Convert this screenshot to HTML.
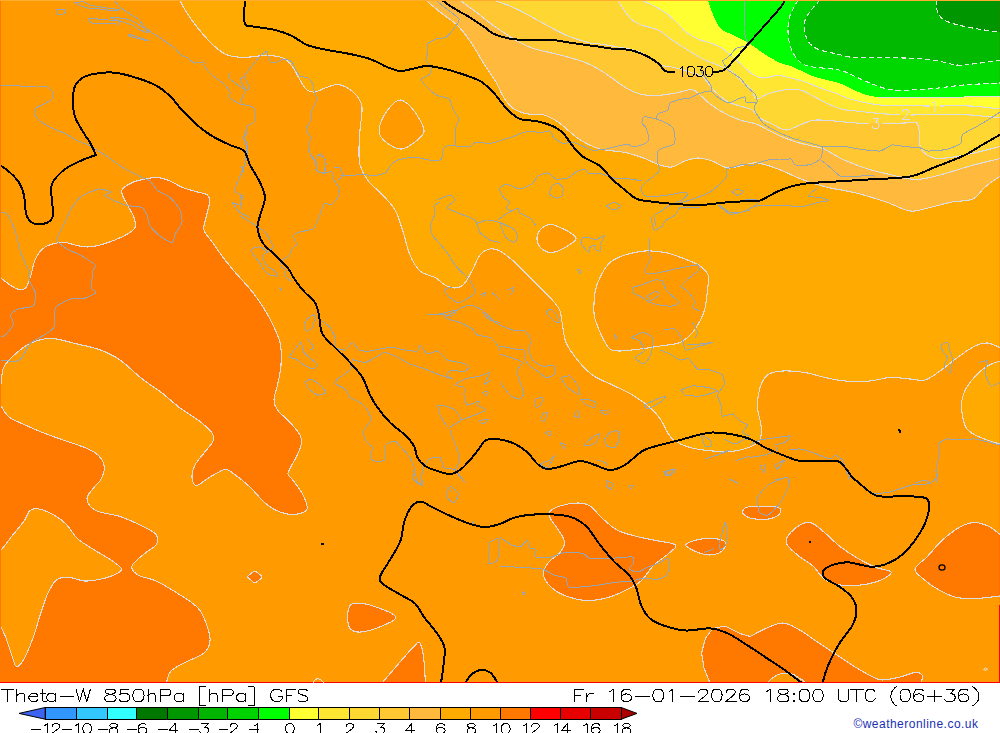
<!DOCTYPE html>
<html><head><meta charset="utf-8"><title>Theta-W 850hPa GFS</title>
<style>html,body{margin:0;padding:0;background:#fff;}body{width:1000px;height:733px;overflow:hidden;position:relative;font-family:"Liberation Sans",sans-serif;}svg{position:absolute;left:0;top:0;display:block}</style></head><body>
<svg width="1000" height="733" viewBox="0 0 1000 733">
<defs><clipPath id="mc"><rect x="0" y="0" width="1000" height="683"/></clipPath></defs>
<g clip-path="url(#mc)" shape-rendering="crispEdges">
<rect x="0" y="0" width="1000" height="683" fill="#ff9b00"/>
<path d="M-5.0,277.5C-4.2,259.8 -2.5,276.2 0.0,277.5C2.5,278.8 6.8,283.0 10.0,285.0C13.2,287.0 16.3,289.1 19.0,289.5C21.7,289.9 24.0,289.9 26.0,287.5C28.0,285.1 29.5,279.6 31.0,275.0C32.5,270.4 33.1,264.3 35.0,260.0C36.9,255.7 39.6,251.7 42.5,249.0C45.4,246.3 48.8,245.1 52.5,244.0C56.2,242.9 61.2,242.3 65.0,242.5C68.8,242.7 71.2,244.2 75.0,245.0C78.8,245.8 83.3,247.0 87.5,247.0C91.7,247.0 95.4,246.2 100.0,245.0C104.6,243.8 110.4,241.8 115.0,240.0C119.6,238.2 124.2,236.1 127.5,234.0C130.8,231.9 133.9,230.2 135.0,227.5C136.1,224.8 135.2,221.2 134.0,217.5C132.8,213.8 129.4,208.8 127.5,205.0C125.6,201.2 123.3,197.7 122.5,195.0C121.7,192.3 120.8,191.1 122.5,189.0C124.2,186.9 128.8,184.2 132.5,182.5C136.2,180.8 140.8,179.8 145.0,179.0C149.2,178.2 153.3,177.2 157.5,177.5C161.7,177.8 165.8,179.3 170.0,181.0C174.2,182.7 177.9,185.7 182.5,187.5C187.1,189.3 193.3,190.8 197.5,192.0C201.7,193.2 205.5,193.2 207.5,195.0C209.5,196.8 209.8,198.8 209.5,202.5C209.2,206.2 206.9,212.9 206.0,217.5C205.1,222.1 202.9,225.8 204.0,230.0C205.1,234.2 209.0,237.5 212.5,242.5C216.0,247.5 220.8,254.6 225.0,260.0C229.2,265.4 233.3,270.2 237.5,275.0C241.7,279.8 246.2,284.4 250.0,289.0C253.8,293.6 256.5,297.2 260.0,302.5C263.5,307.8 267.7,314.3 271.0,321.0C274.3,327.7 278.3,335.2 280.0,342.5C281.7,349.8 281.4,357.9 281.0,365.0C280.6,372.1 278.7,379.2 277.5,385.0C276.3,390.8 274.0,395.8 274.0,400.0C274.0,404.2 274.8,406.2 277.5,410.0C280.2,413.8 286.2,418.3 290.0,422.5C293.8,426.7 298.2,431.2 300.0,435.0C301.8,438.8 301.7,441.2 301.0,445.0C300.3,448.8 298.2,452.8 296.0,457.5C293.8,462.2 288.7,469.4 288.0,473.0C287.3,476.6 289.6,475.5 292.0,479.0C294.4,482.5 300.0,489.0 302.5,494.0C305.0,499.0 308.2,505.6 307.0,509.0C305.8,512.4 299.5,513.9 295.0,514.4C290.5,514.9 285.0,513.9 280.0,512.0C275.0,510.1 270.0,507.2 265.0,503.0C260.0,498.8 255.2,491.8 250.0,487.0C244.8,482.2 238.2,476.9 234.0,474.0C229.8,471.1 229.0,469.0 225.0,469.5C221.0,470.0 214.8,474.4 210.0,477.0C205.2,479.6 199.5,485.4 196.5,485.4C193.5,485.4 192.2,480.4 192.0,477.0C191.8,473.6 193.0,469.0 195.0,465.0C197.0,461.0 201.0,457.0 204.0,453.0C207.0,449.0 211.8,444.5 213.0,441.0C214.2,437.5 214.0,435.5 211.5,432.0C209.0,428.5 203.2,424.0 198.0,420.0C192.8,416.0 186.0,412.5 180.0,408.0C174.0,403.5 168.5,398.0 162.0,393.0C155.5,388.0 148.0,383.5 141.0,378.0C134.0,372.5 127.0,364.8 120.0,360.0C113.0,355.2 106.5,352.2 99.0,349.5C91.5,346.8 83.0,345.4 75.0,343.5C67.0,341.6 58.5,338.4 51.0,338.4C43.5,338.4 36.5,340.4 30.0,343.5C23.5,346.6 16.5,352.8 12.0,357.0C7.5,361.2 4.8,364.5 3.0,369.0C1.2,373.5 2.3,381.5 1.0,384.0C-0.3,386.5 -4.0,401.8 -5.0,384.0C-6.0,366.2 -5.8,295.2 -5.0,277.5Z" fill="#ff7800" stroke="#dedee2" stroke-width="1.1" stroke-linejoin="round"/>
<path d="M-5.0,405.0C-4.2,405.0 -2.3,403.0 0.0,405.0C2.3,407.0 5.0,413.8 9.0,417.0C13.0,420.2 18.0,421.8 24.0,424.5C30.0,427.2 38.0,430.8 45.0,433.5C52.0,436.2 59.0,438.5 66.0,441.0C73.0,443.5 81.5,446.0 87.0,448.5C92.5,451.0 96.1,452.8 99.0,456.0C101.9,459.2 104.2,464.0 104.4,468.0C104.7,472.0 101.9,477.2 100.5,480.0C99.1,482.8 98.2,481.9 96.0,485.0C93.8,488.1 87.0,494.2 87.0,498.5C87.0,502.8 90.5,507.5 96.0,510.5C101.5,513.5 112.5,514.0 120.0,516.5C127.5,519.0 135.0,522.5 141.0,525.5C147.0,528.5 153.5,531.2 156.0,534.5C158.5,537.8 158.0,541.8 156.0,545.0C154.0,548.2 148.0,550.5 144.0,554.0C140.0,557.5 133.0,562.5 132.0,566.0C131.0,569.5 134.0,572.5 138.0,575.0C142.0,577.5 149.5,578.0 156.0,581.0C162.5,584.0 170.0,588.5 177.0,593.0C184.0,597.5 193.0,602.5 198.0,608.0C203.0,613.5 205.0,620.5 207.0,626.0C209.0,631.5 210.5,636.5 210.0,641.0C209.5,645.5 208.0,649.5 204.0,653.0C200.0,656.5 191.5,659.0 186.0,662.0C180.5,665.0 174.2,667.5 171.0,671.0C167.8,674.5 167.3,679.8 166.5,683.0C165.7,686.2 166.1,688.8 166.0,690.0L-5,690Z" fill="#ff7800" stroke="#dedee2" stroke-width="1.1" stroke-linejoin="round"/>
<path d="M-5.0,551.0C-4.2,538.5 -2.8,553.5 0.0,551.0C2.8,548.5 8.0,541.0 12.0,536.0C16.0,531.0 21.0,525.2 24.0,521.0C27.0,516.8 27.5,512.5 30.0,510.5C32.5,508.5 35.0,508.2 39.0,509.0C43.0,509.8 49.5,512.5 54.0,515.0C58.5,517.5 62.0,520.0 66.0,524.0C70.0,528.0 73.0,534.5 78.0,539.0C83.0,543.5 90.5,547.5 96.0,551.0C101.5,554.5 106.8,557.0 111.0,560.0C115.2,563.0 121.0,566.5 121.5,569.0C122.0,571.5 117.8,573.2 114.0,575.0C110.2,576.8 104.0,578.5 99.0,579.5C94.0,580.5 89.0,581.4 84.0,581.0C79.0,580.6 73.5,577.6 69.0,577.4C64.5,577.1 60.5,576.9 57.0,579.5C53.5,582.1 50.8,587.2 48.0,593.0C45.2,598.8 43.0,606.5 40.5,614.0C38.0,621.5 35.8,630.5 33.0,638.0C30.2,645.5 26.8,654.2 24.0,659.0C21.2,663.8 18.5,667.0 16.5,666.5C14.5,666.0 13.8,660.8 12.0,656.0C10.2,651.2 8.0,643.0 6.0,638.0C4.0,633.0 1.8,628.0 0.0,626.0C-1.8,624.0 -4.2,638.5 -5.0,626.0C-5.8,613.5 -5.8,563.5 -5.0,551.0Z" fill="#ff9b00" stroke="#dedee2" stroke-width="1.1" stroke-linejoin="round"/>
<path d="M549.5,512.0C551.0,509.8 555.2,507.5 560.0,506.0C564.8,504.5 573.0,503.0 578.0,503.0C583.0,503.0 586.0,503.5 590.0,506.0C594.0,508.5 597.5,514.0 602.0,518.0C606.5,522.0 611.5,527.0 617.0,530.0C622.5,533.0 628.5,534.2 635.0,536.0C641.5,537.8 649.2,539.0 656.0,540.5C662.8,542.0 673.5,542.8 675.5,545.0C677.5,547.2 671.8,550.5 668.0,554.0C664.2,557.5 657.5,561.5 653.0,566.0C648.5,570.5 645.5,577.0 641.0,581.0C636.5,585.0 631.5,587.2 626.0,590.0C620.5,592.8 614.5,595.8 608.0,597.5C601.5,599.2 594.0,600.8 587.0,600.5C580.0,600.2 572.0,598.2 566.0,596.0C560.0,593.8 554.8,590.5 551.0,587.0C547.2,583.5 544.0,579.0 543.5,575.0C543.0,571.0 545.2,566.8 548.0,563.0C550.8,559.2 557.2,556.0 560.0,552.5C562.8,549.0 564.8,545.8 564.5,542.0C564.2,538.2 560.8,533.8 558.5,530.0C556.2,526.2 552.5,522.5 551.0,519.5C549.5,516.5 548.0,514.2 549.5,512.0Z" fill="#ff7800" stroke="#dedee2" stroke-width="1.1" stroke-linejoin="round"/>
<path d="M686.0,544.4C687.5,543.0 693.5,540.6 698.0,539.6C702.5,538.6 708.5,538.0 713.0,538.4C717.5,538.8 723.5,539.9 725.0,542.0C726.5,544.1 724.5,548.8 722.0,551.0C719.5,553.2 714.0,554.8 710.0,555.0C706.0,555.2 701.5,553.7 698.0,552.5C694.5,551.3 691.0,549.4 689.0,548.0C687.0,546.6 684.5,545.8 686.0,544.4Z" fill="#ff7800" stroke="#dedee2" stroke-width="1.1" stroke-linejoin="round"/>
<path d="M742.4,512.0C742.6,510.8 743.7,508.4 746.0,507.5C748.3,506.6 750.6,506.6 756.0,506.6C761.4,506.6 774.8,506.1 778.5,507.5C782.2,508.9 780.8,513.0 778.5,515.0C776.2,517.0 769.8,519.0 765.0,519.5C760.2,520.0 753.4,518.8 750.0,518.0C746.6,517.2 745.8,516.0 744.5,515.0C743.2,514.0 742.1,513.2 742.4,512.0Z" fill="#ff7800" stroke="#dedee2" stroke-width="1.1" stroke-linejoin="round"/>
<path d="M786.0,542.0C785.5,537.5 791.0,531.8 795.0,528.5C799.0,525.2 805.0,521.8 810.0,522.5C815.0,523.2 820.0,529.0 825.0,533.0C830.0,537.0 834.5,542.2 840.0,546.5C845.5,550.8 852.0,555.0 858.0,558.5C864.0,562.0 870.5,565.2 876.0,567.5C881.5,569.8 890.0,570.0 891.0,572.0C892.0,574.0 886.5,577.4 882.0,579.5C877.5,581.6 870.5,583.6 864.0,584.6C857.5,585.6 849.5,586.4 843.0,585.5C836.5,584.6 830.0,582.8 825.0,579.5C820.0,576.2 817.5,570.0 813.0,566.0C808.5,562.0 802.5,559.5 798.0,555.5C793.5,551.5 786.5,546.5 786.0,542.0Z" fill="#ff7800" stroke="#dedee2" stroke-width="1.1" stroke-linejoin="round"/>
<path d="M915.0,569.0C915.5,565.2 922.5,561.8 927.0,557.0C931.5,552.2 936.5,545.5 942.0,540.5C947.5,535.5 954.5,530.0 960.0,527.0C965.5,524.0 970.0,522.5 975.0,522.5C980.0,522.5 985.8,525.0 990.0,527.0C994.2,529.0 996.7,532.3 1000.0,534.5C1003.3,536.7 1008.3,529.8 1010.0,540.0C1011.7,550.2 1011.7,586.7 1010.0,596.0C1008.3,605.3 1005.3,595.6 1000.0,596.0C994.7,596.4 985.2,598.1 978.0,598.4C970.8,598.6 963.5,598.9 957.0,597.5C950.5,596.1 944.5,593.0 939.0,590.0C933.5,587.0 928.0,583.0 924.0,579.5C920.0,576.0 914.5,572.8 915.0,569.0Z" fill="#ff7800" stroke="#dedee2" stroke-width="1.1" stroke-linejoin="round"/>
<path d="M750.0,636.5C753.0,635.0 762.5,629.8 768.0,627.5C773.5,625.2 778.0,622.8 783.0,623.0C788.0,623.2 792.5,626.0 798.0,629.0C803.5,632.0 810.0,637.0 816.0,641.0C822.0,645.0 828.0,649.0 834.0,653.0C840.0,657.0 846.0,661.2 852.0,665.0C858.0,668.8 865.0,673.0 870.0,675.5C875.0,678.0 877.0,679.8 882.0,680.0C887.0,680.2 894.5,678.2 900.0,677.0C905.5,675.8 911.2,672.8 915.0,672.5C918.8,672.2 921.5,673.8 922.5,675.5C923.5,677.2 921.4,680.6 921.0,683.0C920.6,685.4 920.2,688.8 920.0,690.0L711,690L710,683L704,668L701.6,653L705.5,638L713,628.4L725,626L740,633.5Z" fill="#ff7800" stroke="#dedee2" stroke-width="1.1" stroke-linejoin="round"/>
<path d="M768.0,683.0C767.8,680.8 772.0,678.5 774.0,677.0C776.0,675.5 777.0,674.5 780.0,674.0C783.0,673.5 788.8,673.3 792.0,674.0C795.2,674.7 797.0,676.5 799.0,678.0C801.0,679.5 805.5,681.0 804.0,683.0C802.5,685.0 794.8,688.8 790.0,690.0C785.2,691.2 778.7,691.2 775.0,690.0C771.3,688.8 768.2,685.2 768.0,683.0Z" fill="#ff9b00" stroke="#dedee2" stroke-width="1.1" stroke-linejoin="round"/>
<path d="M349.0,608.0C350.0,605.5 350.0,604.0 353.5,603.5C357.0,603.0 363.0,602.9 370.0,605.0C377.0,607.1 393.5,612.9 395.5,616.4C397.5,619.9 387.8,623.4 382.0,626.0C376.2,628.6 366.2,631.5 361.0,632.0C355.8,632.5 352.8,631.2 350.5,629.0C348.2,626.8 347.8,622.0 347.5,618.5C347.2,615.0 348.0,610.5 349.0,608.0Z" fill="#ff7800" stroke="#dedee2" stroke-width="1.1" stroke-linejoin="round"/>
<path d="M382.0,683.0C385.0,679.5 394.8,668.0 400.0,662.0C405.2,656.0 410.2,650.2 413.5,647.0C416.8,643.8 417.9,641.0 419.5,642.5C421.1,644.0 422.4,649.2 423.4,656.0C424.4,662.8 425.1,678.5 425.5,683.0L425,690L382,690Z" fill="#ff7800" stroke="#dedee2" stroke-width="1.1" stroke-linejoin="round"/>
<path d="M247.5,576.8C247.5,575.7 249.8,574.4 251.0,573.5C252.2,572.6 253.7,571.2 255.0,571.3C256.3,571.4 257.8,573.0 259.0,574.0C260.2,575.0 262.1,575.9 262.0,577.0C261.9,578.1 259.8,579.5 258.5,580.5C257.2,581.5 255.8,582.9 254.5,582.8C253.2,582.7 252.2,581.0 251.0,580.0C249.8,579.0 247.5,577.9 247.5,576.8Z" fill="#ff7800" stroke="#dedee2" stroke-width="1.1" stroke-linejoin="round"/>
<path d="M180.0,-5.0C180.0,-4.2 179.2,-2.5 180.0,0.0C180.8,2.5 182.2,5.5 185.0,10.0C187.8,14.5 192.5,21.3 197.0,27.0C201.5,32.7 207.3,39.5 212.0,44.0C216.7,48.5 220.8,51.8 225.0,54.0C229.2,56.2 232.8,56.5 237.0,57.0C241.2,57.5 245.3,57.2 250.0,57.0C254.7,56.8 259.7,55.4 265.0,55.5C270.3,55.6 277.5,55.8 282.0,57.5C286.5,59.2 289.0,62.2 292.0,66.0C295.0,69.8 297.5,76.0 300.0,80.0C302.5,84.0 304.5,88.0 307.0,90.0C309.5,92.0 312.0,92.3 315.0,92.0C318.0,91.7 321.3,89.2 325.0,88.0C328.7,86.8 333.3,84.6 337.0,84.5C340.7,84.4 343.7,85.6 347.0,87.5C350.3,89.4 354.5,92.7 357.0,96.0C359.5,99.3 361.5,101.8 362.0,107.5C362.5,113.2 360.5,122.9 360.0,130.0C359.5,137.1 359.0,144.2 359.0,150.0C359.0,155.8 358.6,160.0 360.0,165.0C361.4,170.0 363.8,175.0 367.5,180.0C371.2,185.0 377.9,190.0 382.5,195.0C387.1,200.0 391.7,204.2 395.0,210.0C398.3,215.8 400.0,222.5 402.5,230.0C405.0,237.5 407.1,248.2 410.0,255.0C412.9,261.8 415.8,267.2 420.0,271.0C424.2,274.8 430.8,275.2 435.0,277.5C439.2,279.8 441.7,283.2 445.0,285.0C448.3,286.8 451.8,288.2 455.0,288.0C458.2,287.8 461.1,287.0 464.0,284.0C466.9,281.0 469.8,274.8 472.5,270.0C475.2,265.2 477.1,258.5 480.0,255.0C482.9,251.5 486.7,249.7 490.0,249.0C493.3,248.3 495.8,248.8 500.0,251.0C504.2,253.2 510.0,258.1 515.0,262.5C520.0,266.9 525.0,272.5 530.0,277.5C535.0,282.5 541.0,288.4 545.0,292.5C549.0,296.6 551.5,298.9 554.0,302.0C556.5,305.1 558.6,307.2 560.0,311.0C561.4,314.8 561.5,319.8 562.5,325.0C563.5,330.2 563.5,336.7 566.0,342.5C568.5,348.3 573.1,354.6 577.5,360.0C581.9,365.4 586.7,370.8 592.5,375.0C598.3,379.2 605.8,381.7 612.5,385.0C619.2,388.3 626.2,391.2 632.5,395.0C638.8,398.8 645.2,403.3 650.0,407.5C654.8,411.7 658.1,415.8 661.0,420.0C663.9,424.2 665.2,429.0 667.5,432.5C669.8,436.0 671.2,438.5 675.0,441.0C678.8,443.5 683.8,445.8 690.0,447.5C696.2,449.2 705.0,450.4 712.5,451.0C720.0,451.6 728.8,451.7 735.0,451.0C741.2,450.3 745.8,448.8 750.0,447.0C754.2,445.2 758.2,443.7 760.0,440.0C761.8,436.3 761.4,430.4 761.0,425.0C760.6,419.6 757.7,413.8 757.5,407.5C757.3,401.2 758.3,392.9 760.0,387.5C761.7,382.1 763.8,377.8 767.5,375.0C771.2,372.2 776.2,371.4 782.5,371.0C788.8,370.6 797.9,371.4 805.0,372.5C812.1,373.6 818.3,376.1 825.0,377.5C831.7,378.9 837.5,380.4 845.0,381.0C852.5,381.6 862.5,381.6 870.0,381.0C877.5,380.4 883.3,377.8 890.0,377.5C896.7,377.2 904.2,378.6 910.0,379.0C915.8,379.4 920.0,381.3 925.0,380.0C930.0,378.7 934.6,374.8 940.0,371.0C945.4,367.2 951.7,361.7 957.5,357.5C963.3,353.3 970.0,348.4 975.0,346.0C980.0,343.6 983.3,342.8 987.5,343.0C991.7,343.2 996.2,346.3 1000.0,347.5C1003.8,348.7 1008.3,349.6 1010.0,350.0L1010,-5Z" fill="#ffaa00" stroke="#dedee2" stroke-width="1.1" stroke-linejoin="round"/>
<path d="M1010.0,358.0C1008.3,343.8 1004.2,359.4 1000.0,361.0C995.8,362.6 990.0,363.9 985.0,367.5C980.0,371.1 973.8,377.5 970.0,382.5C966.2,387.5 963.8,392.5 962.5,397.5C961.2,402.5 961.4,407.5 962.0,412.5C962.6,417.5 963.8,423.8 966.0,427.5C968.2,431.2 971.0,432.8 975.0,435.0C979.0,437.2 985.8,439.5 990.0,441.0C994.2,442.5 996.7,443.2 1000.0,444.0C1003.3,444.8 1008.3,460.3 1010.0,446.0C1011.7,431.7 1011.7,372.2 1010.0,358.0Z" fill="#ffaa00" stroke="#dedee2" stroke-width="1.1" stroke-linejoin="round"/>
<path d="M400.0,100.0C396.7,100.2 393.2,103.3 390.0,107.0C386.8,110.7 382.7,117.3 381.0,122.0C379.3,126.7 378.5,131.2 380.0,135.0C381.5,138.8 386.3,142.7 390.0,145.0C393.7,147.3 397.8,149.5 402.0,149.0C406.2,148.5 411.3,144.8 415.0,142.0C418.7,139.2 423.2,135.7 424.0,132.0C424.8,128.3 422.3,124.3 420.0,120.0C417.7,115.7 413.3,109.3 410.0,106.0C406.7,102.7 403.3,99.8 400.0,100.0Z" fill="#ff9b00" stroke="#dedee2" stroke-width="1.1" stroke-linejoin="round"/>
<path d="M550.0,224.5C546.7,224.9 542.2,227.4 540.0,230.0C537.8,232.6 536.7,236.8 537.0,240.0C537.3,243.2 539.5,246.9 542.0,249.0C544.5,251.1 548.2,252.8 552.0,252.5C555.8,252.2 561.0,249.8 565.0,247.5C569.0,245.2 575.2,241.5 576.0,239.0C576.8,236.5 572.7,234.4 570.0,232.5C567.3,230.6 563.3,228.8 560.0,227.5C556.7,226.2 553.3,224.1 550.0,224.5Z" fill="#ff9b00" stroke="#dedee2" stroke-width="1.1" stroke-linejoin="round"/>
<path d="M594.0,313.0C593.8,308.1 594.0,298.4 595.0,292.5C596.0,286.6 597.5,282.5 600.0,277.5C602.5,272.5 605.8,266.2 610.0,262.5C614.2,258.8 619.2,256.9 625.0,255.0C630.8,253.1 638.3,251.4 645.0,251.0C651.7,250.6 658.3,251.2 665.0,252.5C671.7,253.8 679.2,256.8 685.0,259.0C690.8,261.2 696.2,263.3 700.0,266.0C703.8,268.7 706.8,271.0 708.0,275.0C709.2,279.0 708.0,284.5 707.5,290.0C707.0,295.5 706.1,303.2 705.0,308.0C703.9,312.8 703.1,314.9 701.0,319.0C698.9,323.1 696.0,328.6 692.5,332.5C689.0,336.4 685.4,340.2 680.0,342.5C674.6,344.8 666.7,344.9 660.0,346.0C653.3,347.1 646.7,348.2 640.0,349.0C633.3,349.8 625.0,351.0 620.0,351.0C615.0,351.0 612.9,351.2 610.0,349.0C607.1,346.8 604.8,342.0 602.5,337.5C600.2,333.0 597.4,326.1 596.0,322.0C594.6,317.9 594.2,317.9 594.0,313.0Z" fill="#ff9b00" stroke="#dedee2" stroke-width="1.1" stroke-linejoin="round"/>
<path d="M426.0,-5.0C426.0,-4.2 423.7,-2.8 426.0,0.0C428.3,2.8 434.7,7.7 440.0,12.0C445.3,16.3 452.7,20.7 458.0,26.0C463.3,31.3 467.7,37.7 472.0,44.0C476.3,50.3 480.0,57.7 484.0,64.0C488.0,70.3 492.7,76.3 496.0,82.0C499.3,87.7 501.0,93.5 504.0,98.0C507.0,102.5 510.0,106.3 514.0,109.0C518.0,111.7 523.0,113.0 528.0,114.0C533.0,115.0 539.0,113.7 544.0,115.0C549.0,116.3 553.7,119.2 558.0,122.0C562.3,124.8 566.0,128.8 570.0,132.0C574.0,135.2 577.0,138.2 582.0,141.0C587.0,143.8 592.8,147.1 600.0,149.0C607.2,150.9 618.0,151.1 625.0,152.5C632.0,153.9 636.2,155.4 642.0,157.5C647.8,159.6 655.0,163.4 660.0,165.0C665.0,166.6 667.8,167.7 672.0,167.0C676.2,166.3 680.7,162.5 685.0,161.0C689.3,159.5 693.5,158.0 698.0,158.0C702.5,158.0 707.0,159.3 712.0,161.0C717.0,162.7 722.7,167.3 728.0,168.0C733.3,168.7 739.2,165.8 744.0,165.0C748.8,164.2 751.3,162.3 757.0,163.0C762.7,163.7 770.5,166.2 778.0,169.0C785.5,171.8 794.0,176.5 802.0,179.5C810.0,182.5 817.0,184.8 826.0,187.0C835.0,189.2 846.0,190.5 856.0,193.0C866.0,195.5 877.0,199.0 886.0,202.0C895.0,205.0 903.0,210.0 910.0,211.0C917.0,212.0 921.0,209.5 928.0,208.0C935.0,206.5 944.5,203.5 952.0,202.0C959.5,200.5 967.5,201.5 973.0,199.0C978.5,196.5 980.5,190.8 985.0,187.0C989.5,183.2 995.8,179.0 1000.0,176.5C1004.2,174.0 1008.3,172.8 1010.0,172.0L1010,-5Z" fill="#ffb93c" stroke="#dedee2" stroke-width="1.1" stroke-linejoin="round"/>
<path d="M460.0,-5.0C460.0,-4.2 457.3,-2.8 460.0,0.0C462.7,2.8 470.3,7.7 476.0,12.0C481.7,16.3 487.7,21.5 494.0,26.0C500.3,30.5 507.7,35.3 514.0,39.0C520.3,42.7 524.3,45.3 532.0,48.0C539.7,50.7 551.3,52.7 560.0,55.0C568.7,57.3 577.3,59.5 584.0,62.0C590.7,64.5 595.3,67.3 600.0,70.0C604.7,72.7 607.7,75.0 612.0,78.0C616.3,81.0 621.3,85.3 626.0,88.0C630.7,90.7 635.0,92.7 640.0,94.0C645.0,95.3 650.0,95.8 656.0,95.6C662.0,95.4 670.0,94.0 676.0,93.0C682.0,92.0 688.0,89.3 692.0,89.6C696.0,89.9 697.0,92.6 700.0,95.0C703.0,97.4 706.0,101.0 710.0,104.0C714.0,107.0 719.0,110.3 724.0,113.0C729.0,115.7 734.7,118.2 740.0,120.0C745.3,121.8 751.3,122.3 756.0,124.0C760.7,125.7 764.0,128.0 768.0,130.0C772.0,132.0 775.3,134.0 780.0,136.0C784.7,138.0 790.7,140.3 796.0,142.0C801.3,143.7 807.3,144.8 812.0,146.0C816.7,147.2 818.7,146.7 824.0,149.0C829.3,151.3 836.7,156.7 844.0,160.0C851.3,163.3 860.0,166.5 868.0,169.0C876.0,171.5 884.0,173.2 892.0,175.0C900.0,176.8 908.0,179.5 916.0,179.5C924.0,179.5 931.0,177.2 940.0,175.0C949.0,172.8 960.0,168.8 970.0,166.0C980.0,163.2 993.3,160.2 1000.0,158.5C1006.7,156.8 1008.3,156.4 1010.0,156.0L1010,-5Z" fill="#ffc832" stroke="#dedee2" stroke-width="1.1" stroke-linejoin="round"/>
<path d="M494.0,-5.0C494.0,-4.2 491.3,-1.8 494.0,0.0C496.7,1.8 504.0,3.3 510.0,6.0C516.0,8.7 523.7,12.7 530.0,16.0C536.3,19.3 541.7,22.7 548.0,26.0C554.3,29.3 561.0,33.2 568.0,36.0C575.0,38.8 584.7,41.7 590.0,43.0C595.3,44.3 595.3,43.3 600.0,44.0C604.7,44.7 612.3,46.0 618.0,47.0C623.7,48.0 629.0,48.5 634.0,50.0C639.0,51.5 643.7,53.5 648.0,56.0C652.3,58.5 656.0,63.2 660.0,65.0C664.0,66.8 667.0,65.8 672.0,67.0C677.0,68.2 684.8,70.3 690.0,72.0C695.2,73.7 699.7,74.7 703.0,77.0C706.3,79.3 707.2,82.8 710.0,86.0C712.8,89.2 717.0,93.3 720.0,96.0C723.0,98.7 724.7,100.3 728.0,102.0C731.3,103.7 736.0,104.7 740.0,106.0C744.0,107.3 748.7,108.0 752.0,110.0C755.3,112.0 756.7,115.7 760.0,118.0C763.3,120.3 767.7,122.0 772.0,124.0C776.3,126.0 781.3,129.8 786.0,130.0C790.7,130.2 795.0,126.7 800.0,125.0C805.0,123.3 807.7,120.4 816.0,120.0C824.3,119.6 840.3,121.8 850.0,122.5C859.7,123.2 864.8,123.9 874.0,124.0C883.2,124.1 898.0,123.2 905.0,123.0C912.0,122.8 913.7,121.3 916.0,122.5C918.3,123.7 918.2,125.8 919.0,130.0C919.8,134.2 919.0,143.8 920.5,148.0C922.0,152.2 924.8,153.8 928.0,155.5C931.2,157.2 933.0,158.8 940.0,158.5C947.0,158.2 960.0,156.0 970.0,154.0C980.0,152.0 993.3,148.2 1000.0,146.5C1006.7,144.8 1008.3,144.4 1010.0,144.0L1010,-5Z" fill="#ffd732" stroke="#dedee2" stroke-width="1.1" stroke-linejoin="round"/>
<path d="M618.0,-5.0C618.0,-4.2 617.0,-2.5 618.0,0.0C619.0,2.5 621.8,6.8 624.0,10.0C626.2,13.2 628.2,16.5 631.0,19.0C633.8,21.5 636.5,23.2 641.0,25.0C645.5,26.8 652.8,27.5 658.0,30.0C663.2,32.5 667.3,36.8 672.0,40.0C676.7,43.2 680.8,45.8 686.0,49.0C691.2,52.2 697.3,56.2 703.0,59.0C708.7,61.8 715.2,63.8 720.0,66.0C724.8,68.2 728.7,69.7 732.0,72.0C735.3,74.3 736.7,77.0 740.0,80.0C743.3,83.0 749.3,86.8 752.0,90.0C754.7,93.2 753.3,98.3 756.0,99.0C758.7,99.7 763.3,95.5 768.0,94.0C772.7,92.5 778.7,90.7 784.0,90.0C789.3,89.3 795.5,89.2 800.0,90.0C804.5,90.8 806.7,92.8 811.0,95.0C815.3,97.2 821.0,100.7 826.0,103.0C831.0,105.3 836.0,107.7 841.0,109.0C846.0,110.3 849.5,110.2 856.0,111.0C862.5,111.8 872.0,112.8 880.0,113.5C888.0,114.2 894.0,114.8 904.0,115.0C914.0,115.2 929.0,114.5 940.0,114.5C951.0,114.5 960.0,114.4 970.0,115.0C980.0,115.6 993.3,117.3 1000.0,118.0C1006.7,118.7 1008.3,118.8 1010.0,119.0L1010,-5Z" fill="#ffe632" stroke="#dedee2" stroke-width="1.1" stroke-linejoin="round"/>
<path d="M642.0,-5.0C642.0,-4.2 640.0,-1.8 642.0,0.0C644.0,1.8 649.8,3.7 654.0,6.0C658.2,8.3 663.0,11.0 667.0,14.0C671.0,17.0 674.8,21.0 678.0,24.0C681.2,27.0 682.7,29.5 686.0,32.0C689.3,34.5 694.0,37.2 698.0,39.0C702.0,40.8 706.3,41.7 710.0,43.0C713.7,44.3 716.7,45.1 720.0,47.0C723.3,48.9 726.3,51.5 730.0,54.5C733.7,57.5 738.3,61.8 742.0,65.0C745.7,68.2 748.5,71.8 752.0,74.0C755.5,76.2 758.7,77.8 763.0,78.0C767.3,78.2 773.0,75.4 778.0,75.5C783.0,75.6 788.0,77.2 793.0,78.5C798.0,79.8 803.0,81.2 808.0,83.0C813.0,84.8 818.0,87.2 823.0,89.0C828.0,90.8 833.5,92.3 838.0,94.0C842.5,95.7 843.0,97.2 850.0,99.0C857.0,100.8 867.0,103.8 880.0,105.0C893.0,106.2 913.0,105.8 928.0,106.0C943.0,106.2 958.0,105.5 970.0,106.0C982.0,106.5 993.3,108.3 1000.0,109.0C1006.7,109.7 1008.3,109.8 1010.0,110.0L1010,-5Z" fill="#ffff32" stroke="#dedee2" stroke-width="1.1" stroke-linejoin="round"/>
<path d="M708.0,-5.0C708.0,-4.2 707.3,-2.8 708.0,0.0C708.7,2.8 710.0,7.3 712.0,12.0C714.0,16.7 716.5,24.2 720.0,28.0C723.5,31.8 728.3,32.6 733.0,35.0C737.7,37.4 743.0,39.5 748.0,42.5C753.0,45.5 758.0,49.8 763.0,53.0C768.0,56.2 773.0,59.7 778.0,62.0C783.0,64.3 786.8,64.5 793.0,67.0C799.2,69.5 807.3,74.3 815.0,77.0C822.7,79.7 831.3,80.3 839.0,83.0C846.7,85.7 854.2,90.7 861.0,93.0C867.8,95.3 868.8,96.3 880.0,97.0C891.2,97.7 908.0,97.2 928.0,97.0C948.0,96.8 986.3,96.2 1000.0,96.0C1013.7,95.8 1008.3,96.0 1010.0,96.0L1010,-5Z" fill="#00ff00"/>
<path d="M798.0,-5.0C798.0,-4.2 799.5,-4.0 798.0,0.0C796.5,4.0 790.5,12.2 789.0,19.0C787.5,25.8 787.8,34.6 789.0,41.0C790.2,47.4 792.8,53.4 796.0,57.6C799.2,61.8 800.8,63.9 808.0,66.0C815.2,68.1 831.0,68.2 839.0,70.0C847.0,71.8 850.0,74.5 856.0,77.0C862.0,79.5 868.7,82.8 875.0,85.0C881.3,87.2 885.2,89.3 894.0,90.0C902.8,90.7 916.3,89.8 928.0,89.0C939.7,88.2 952.0,86.0 964.0,85.0C976.0,84.0 992.3,83.3 1000.0,83.0C1007.7,82.7 1008.3,83.0 1010.0,83.0L1010,-5Z" fill="#00d700"/>
<path d="M820.0,-5.0C820.0,-4.2 822.0,-3.2 820.0,0.0C818.0,3.2 810.7,10.0 808.0,14.4C805.3,18.8 804.0,22.0 804.0,26.4C804.0,30.8 805.7,37.2 808.0,41.0C810.3,44.8 812.8,46.8 817.6,49.0C822.4,51.2 830.6,52.6 837.0,54.0C843.4,55.4 844.8,56.9 856.0,57.6C867.2,58.3 891.2,57.6 904.0,58.0C916.8,58.4 924.2,58.8 933.0,60.0C941.8,61.2 949.8,64.4 957.0,65.0C964.2,65.6 968.8,64.4 976.0,63.6C983.2,62.8 994.3,60.8 1000.0,60.0C1005.7,59.2 1008.3,59.2 1010.0,59.0L1010,-5Z" fill="#00b900"/>
<path d="M936.0,-5.0C936.0,-4.2 935.7,-2.8 936.0,0.0C936.3,2.8 936.1,8.6 937.6,12.0C939.1,15.4 940.6,18.0 945.0,20.4C949.4,22.8 954.8,24.4 964.0,26.4C973.2,28.4 992.3,31.3 1000.0,32.4C1007.7,33.5 1008.3,32.9 1010.0,33.0L1010,-5Z" fill="#009600"/>
</g>
<g clip-path="url(#mc)" fill="none" stroke="#98a6b4" stroke-width="1" shape-rendering="crispEdges">
<path d="M0.0,85.0C2.0,85.1 16.4,85.8 20.0,86.0C23.6,86.2 33.3,86.9 36.0,87.0C38.7,87.1 45.3,86.5 47.0,87.0C48.7,87.5 52.4,90.9 53.0,92.0C53.6,93.1 53.7,96.9 53.0,98.0C52.3,99.1 47.7,102.0 46.0,103.0C44.3,104.0 37.1,106.9 36.0,108.0C34.9,109.1 34.1,112.7 34.5,114.0C34.9,115.3 38.2,119.6 40.0,121.0C41.8,122.4 49.4,126.7 52.0,128.0C54.6,129.3 63.6,132.8 66.0,134.0C68.4,135.2 73.8,138.9 76.0,140.0C78.2,141.1 85.1,143.5 88.0,145.0C90.9,146.5 101.3,152.6 105.0,155.0C108.7,157.4 121.3,166.8 125.0,169.0C128.7,171.2 139.5,176.3 142.0,177.5C144.5,178.7 148.5,179.8 150.0,181.0C151.5,182.2 155.0,188.3 157.0,190.0C159.0,191.7 167.7,195.5 170.0,197.5C172.3,199.5 178.8,207.5 180.0,210.0C181.2,212.5 182.4,220.2 182.0,222.5C181.6,224.8 177.0,230.5 176.0,232.5C175.0,234.5 173.6,242.2 172.0,242.5C170.4,242.8 162.2,237.7 160.0,236.0C157.8,234.3 151.3,228.1 150.0,226.0C148.7,223.9 147.8,216.8 147.0,215.0C146.2,213.2 144.2,208.5 142.0,207.5C139.8,206.5 128.7,206.2 125.0,205.0C121.3,203.8 106.4,197.3 105.0,196.0C103.6,194.7 111.6,192.7 111.0,192.0C110.4,191.3 101.9,188.6 99.0,189.0C96.1,189.4 84.7,194.2 82.0,196.0C79.3,197.8 73.6,205.1 72.0,207.5C70.4,209.9 67.3,217.3 66.0,220.0C64.7,222.7 59.9,231.9 59.0,234.0C58.1,236.1 56.2,239.5 57.0,241.0C57.8,242.5 64.7,247.6 67.0,249.0C69.3,250.4 77.2,253.4 80.0,255.0C82.8,256.6 93.7,263.5 95.0,265.0C96.3,266.5 93.2,269.5 93.0,270.0"/>
<path d="M0.0,212.5C0.7,212.7 5.5,212.2 7.0,214.0C8.5,215.8 13.7,226.4 15.0,230.0C16.3,233.6 18.9,246.5 20.0,250.0C21.1,253.5 25.1,263.0 26.0,265.0C26.9,267.0 28.2,269.5 28.5,270.0"/>
<path d="M56.0,9.6C57.0,9.6 64.8,9.6 65.6,10.0C66.4,10.4 64.8,13.2 64.0,13.6C63.2,14.0 58.8,14.8 58.0,14.4C57.2,14.0 56.2,10.1 56.0,9.6"/>
<path d="M74.4,2.4C75.4,2.4 82.4,1.7 84.0,2.0C85.6,2.3 88.0,4.4 90.0,5.0C92.0,5.6 101.1,7.1 104.0,7.6C106.9,8.1 118.0,9.3 119.0,9.6C120.0,9.9 115.9,11.1 114.0,11.0C112.1,10.9 102.4,9.3 100.0,9.0C97.6,8.7 92.0,8.7 90.0,8.4C88.0,8.1 81.6,6.2 80.0,5.6C78.4,5.0 75.0,2.7 74.4,2.4"/>
<path d="M89.0,18.4C90.5,18.5 101.1,19.3 104.0,19.6C106.9,19.9 116.4,20.6 118.0,21.0C119.6,21.4 120.6,23.7 119.6,24.0C118.6,24.3 110.6,23.6 108.0,23.6C105.4,23.6 95.9,23.9 94.0,23.6C92.1,23.3 89.5,21.5 89.0,21.0C88.5,20.5 89.0,18.7 89.0,18.4"/>
<path d="M110.0,17.6C111.4,17.7 121.4,17.9 124.0,18.4C126.6,18.9 134.0,22.0 136.0,23.0C138.0,24.0 142.7,27.0 144.0,28.0C145.3,29.0 149.4,32.8 149.0,33.0C148.6,33.2 141.7,30.8 140.0,30.0C138.3,29.2 134.0,25.9 132.0,25.0C130.0,24.1 122.2,21.7 120.0,21.0C117.8,20.3 111.0,17.9 110.0,17.6"/>
<path d="M128.0,34.0C129.0,34.3 135.9,36.3 138.0,37.0C140.1,37.7 148.8,40.8 149.0,41.0C149.2,41.2 141.9,39.5 140.0,39.0C138.1,38.5 131.2,36.9 130.0,36.4C128.8,35.9 128.2,34.2 128.0,34.0"/>
<path d="M114.0,0.0C114.6,0.7 118.4,5.6 120.0,7.0C121.6,8.4 128.2,12.8 130.0,14.0C131.8,15.2 136.6,17.8 138.0,19.0C139.4,20.2 142.6,24.6 144.0,26.0C145.4,27.4 150.7,32.0 152.0,33.0C153.3,34.0 155.6,34.7 157.0,35.6C158.4,36.5 164.1,40.7 166.0,42.0C167.9,43.3 174.5,47.7 176.0,49.0C177.5,50.3 179.8,54.1 181.0,55.0C182.2,55.9 186.7,57.2 188.0,58.0C189.3,58.8 192.4,62.6 194.0,63.0C195.6,63.4 203.0,61.7 204.0,62.0C205.0,62.3 203.2,64.7 204.0,66.0C204.8,67.3 210.0,73.2 212.0,75.0C214.0,76.8 222.2,82.3 224.0,84.0C225.8,85.7 229.4,90.6 230.0,92.0C230.6,93.4 229.0,96.8 230.0,98.0C231.0,99.2 238.0,103.2 240.0,104.0C242.0,104.8 248.4,105.4 250.0,106.0C251.6,106.6 255.2,108.4 255.6,110.0C256.0,111.6 254.9,120.4 254.0,122.0C253.1,123.6 247.6,125.0 247.0,126.0C246.4,127.0 248.4,130.8 248.0,132.0C247.6,133.2 243.0,136.8 243.0,138.0C243.0,139.2 247.7,142.4 248.0,144.0C248.3,145.6 246.3,152.0 246.0,154.0C245.7,156.0 245.4,162.2 245.0,164.0C244.6,165.8 242.9,169.8 242.0,172.0C241.1,174.2 236.6,183.9 236.0,186.0C235.4,188.1 235.3,191.5 236.0,192.5C236.7,193.5 242.1,194.8 242.5,196.0C242.9,197.2 241.0,204.3 240.0,205.0C239.0,205.7 232.5,201.8 232.5,202.5C232.5,203.2 238.2,211.0 240.0,212.5C241.8,214.0 249.0,217.0 250.0,217.5"/>
<path d="M267.0,51.0C266.3,51.5 261.5,54.5 260.0,56.0C258.5,57.5 253.6,64.0 252.0,66.0C250.4,68.0 245.2,74.6 244.0,76.0C242.8,77.4 239.8,78.6 240.0,80.0C240.2,81.4 245.7,88.4 246.0,90.0C246.3,91.6 243.5,94.8 243.0,96.0C242.5,97.2 240.9,101.1 241.0,102.0C241.1,102.9 243.7,104.7 244.0,105.0"/>
<path d="M229.0,73.0C229.0,73.5 228.1,76.8 229.0,78.0C229.9,79.2 236.3,83.8 238.0,85.0C239.7,86.2 244.8,89.7 246.0,90.0C247.2,90.3 250.0,89.0 250.0,88.0C250.0,87.0 246.6,81.2 246.0,80.0C245.4,78.8 244.2,76.4 244.0,76.0"/>
<path d="M267.0,51.0C267.2,51.9 268.3,58.8 269.0,60.0C269.7,61.2 272.5,63.1 274.0,63.0C275.5,62.9 282.2,59.1 284.0,59.0C285.8,58.9 290.8,60.9 292.0,62.0C293.2,63.1 295.2,68.6 296.0,70.0C296.8,71.4 298.8,75.2 300.0,76.0C301.2,76.8 306.7,77.2 308.0,78.0C309.3,78.8 312.4,82.6 313.0,84.0C313.6,85.4 314.0,90.4 314.4,92.0C314.8,93.6 317.2,98.2 317.0,100.0C316.8,101.8 312.6,108.0 312.0,110.0C311.4,112.0 311.6,118.0 311.0,120.0C310.4,122.0 306.0,128.2 306.0,130.0C306.0,131.8 310.8,136.4 311.0,138.0C311.2,139.6 307.9,144.0 308.0,146.0C308.1,148.0 311.1,156.4 312.0,158.0C312.9,159.6 316.6,160.8 317.0,162.0C317.4,163.2 315.5,168.9 316.0,170.0C316.5,171.1 320.4,172.8 322.0,173.0C323.6,173.2 330.8,171.3 332.0,172.0C333.2,172.7 333.3,178.4 334.0,180.0C334.7,181.6 338.6,186.3 339.0,188.0C339.4,189.7 338.7,195.4 338.0,197.0C337.3,198.6 333.4,203.3 332.0,204.0C330.6,204.7 325.1,203.2 324.0,204.0C322.9,204.8 321.7,210.2 321.0,212.0C320.3,213.8 317.8,220.3 317.0,222.0C316.2,223.7 314.7,228.0 313.0,229.0C311.3,230.0 302.0,231.3 300.0,232.0C298.0,232.7 293.3,234.8 293.0,236.0C292.7,237.2 297.1,242.7 297.0,244.0C296.9,245.3 292.8,247.8 292.0,249.0C291.2,250.2 289.9,255.0 289.0,256.0C288.1,257.0 283.9,258.0 283.0,259.0C282.1,260.0 279.7,264.9 280.0,266.0C280.3,267.1 285.5,269.0 286.0,270.0C286.5,271.0 284.4,274.8 285.0,276.0C285.6,277.2 291.3,281.4 292.0,282.0"/>
<path d="M317.0,156.0C317.4,155.8 320.1,153.4 321.0,154.0C321.9,154.6 325.7,160.2 326.0,162.0C326.3,163.8 324.2,171.0 324.0,172.0"/>
<path d="M334.0,168.0C334.6,168.0 339.1,167.2 340.0,168.0C340.9,168.8 343.2,174.8 343.0,176.0C342.8,177.2 338.5,179.6 338.0,180.0"/>
<path d="M308.0,150.0C308.7,151.0 313.9,159.5 315.0,160.0C316.1,160.5 318.0,155.1 319.0,155.0C320.0,154.9 324.3,157.9 325.0,159.0C325.7,160.1 326.1,164.5 326.0,166.0C325.9,167.5 324.9,173.2 324.0,173.6C323.1,174.0 317.9,171.4 317.0,170.0C316.1,168.6 315.2,161.0 315.0,160.0"/>
<path d="M455.5,146.0C455.6,144.1 455.6,129.7 456.0,127.0C456.4,124.3 459.3,120.8 459.0,119.0C458.7,117.2 454.0,111.0 453.0,109.0C452.0,107.0 450.7,100.4 449.0,99.0C447.3,97.6 438.7,96.3 436.4,95.0C434.1,93.7 427.5,87.6 426.0,86.0C424.5,84.4 421.3,80.2 421.7,79.0C422.1,77.8 429.1,75.3 430.0,74.0C430.9,72.7 431.4,67.3 431.0,66.0C430.6,64.7 426.3,62.3 426.0,61.0C425.7,59.7 427.4,54.7 427.6,53.0C427.8,51.3 426.7,45.4 427.6,44.0C428.5,42.6 434.5,39.7 436.4,39.0C438.3,38.3 444.6,38.4 446.6,37.0C448.6,35.6 455.5,26.8 456.7,25.0C457.9,23.2 459.5,20.2 459.0,19.0C458.5,17.8 453.4,14.1 451.7,12.7C449.9,11.3 443.1,6.3 441.5,5.0C439.9,3.7 436.6,0.5 436.0,0.0"/>
<path d="M340.0,175.0C341.0,175.1 347.7,176.1 350.0,176.0C352.3,175.9 360.5,174.0 362.8,174.0C365.1,174.0 370.7,176.1 373.0,176.0C375.3,175.9 383.9,173.7 385.7,172.6C387.5,171.5 389.5,166.3 390.8,165.0C392.1,163.7 396.1,160.8 398.4,160.0C400.7,159.2 410.6,157.0 413.6,157.0C416.6,157.0 426.7,159.6 428.8,160.0C430.9,160.4 433.7,161.1 435.0,161.0C436.3,160.9 440.7,160.1 441.5,159.0C442.3,157.9 442.3,151.3 442.8,150.0C443.3,148.7 445.3,146.4 446.6,146.0C447.9,145.6 453.2,145.9 455.5,146.0C457.8,146.1 467.5,147.3 469.4,147.0C471.3,146.7 472.2,143.4 474.5,143.0C476.8,142.6 489.2,143.3 492.0,143.0C494.8,142.7 500.0,140.6 502.0,140.0C504.0,139.4 510.0,137.7 512.0,137.0C514.0,136.3 520.0,133.6 522.0,133.0C524.0,132.4 530.2,131.0 532.0,131.0C533.8,131.0 538.2,133.0 540.0,133.0C541.8,133.0 548.6,130.5 550.0,131.0C551.4,131.5 552.6,136.7 554.0,138.0C555.4,139.3 562.4,143.6 564.0,144.0C565.6,144.4 568.6,142.0 570.0,142.0C571.4,142.0 575.8,143.2 578.0,144.0C580.2,144.8 589.2,149.5 592.0,150.0C594.8,150.5 603.4,149.4 606.0,149.0C608.6,148.6 615.8,146.5 618.0,146.0C620.2,145.5 626.4,144.3 628.0,144.4C629.6,144.5 632.2,147.1 634.0,147.0C635.8,146.9 644.5,143.9 646.0,143.0C647.5,142.1 649.0,139.5 649.0,138.0C649.0,136.5 646.7,129.5 646.0,128.0C645.3,126.5 642.2,124.1 642.0,123.0C641.8,121.9 642.6,117.4 644.0,117.0C645.4,116.6 653.8,118.4 656.0,119.0C658.2,119.6 664.3,122.1 666.0,123.0C667.7,123.9 672.1,126.5 673.0,128.0C673.9,129.5 674.9,136.4 675.0,138.0C675.1,139.6 674.9,143.1 674.0,144.0C673.1,144.9 667.6,146.3 666.0,147.0C664.4,147.7 658.8,149.3 658.0,151.0C657.2,152.7 657.8,162.1 658.0,164.0C658.2,165.9 660.4,168.8 660.0,170.0C659.6,171.2 655.4,174.8 654.0,176.0C652.6,177.2 647.2,181.0 646.0,182.0C644.8,183.0 642.4,185.0 642.0,186.0C641.6,187.0 641.6,191.0 642.0,192.0C642.4,193.0 644.2,195.6 646.0,196.0C647.8,196.4 657.2,196.2 660.0,196.0C662.8,195.8 671.6,194.4 674.0,194.0C676.4,193.6 682.6,192.0 684.0,192.0C685.4,192.0 688.2,193.2 688.0,194.0C687.8,194.8 683.8,198.9 682.0,200.0C680.2,201.1 672.2,203.8 670.0,205.0C667.8,206.2 661.6,210.9 660.0,212.0C658.4,213.1 654.4,214.6 654.0,216.0C653.6,217.4 655.8,225.0 656.0,226.0"/>
<path d="M656.0,119.0C656.2,118.5 656.8,114.9 658.0,114.0C659.2,113.1 666.8,111.1 668.0,110.0C669.2,108.9 668.6,104.1 670.0,103.0C671.4,101.9 680.0,99.5 682.0,99.0C684.0,98.5 688.4,98.5 690.0,98.0C691.6,97.5 696.0,94.7 698.0,94.0C700.0,93.3 708.2,90.8 710.0,91.0C711.8,91.2 714.6,95.0 716.0,96.0C717.4,97.0 722.6,100.3 724.0,101.0C725.4,101.7 728.6,103.2 730.0,103.0C731.4,102.8 736.5,99.6 738.0,99.0C739.5,98.4 744.2,96.7 745.0,97.0C745.8,97.3 744.8,101.5 746.0,102.0C747.2,102.5 756.1,102.8 757.0,102.0C757.9,101.2 755.9,95.4 755.0,94.0C754.1,92.6 749.5,89.6 748.0,88.0C746.5,86.4 742.0,79.8 740.0,78.0C738.0,76.2 729.8,71.8 728.0,70.0C726.2,68.2 722.6,61.0 722.0,60.0"/>
<path d="M757.0,102.0C756.7,102.6 753.9,106.6 754.0,108.0C754.1,109.4 757.0,114.4 758.0,116.0C759.0,117.6 762.2,122.5 764.0,124.0C765.8,125.5 773.2,129.6 776.0,131.0C778.8,132.4 788.6,136.8 792.0,138.0C795.4,139.2 806.9,142.2 810.0,143.0C813.1,143.8 819.6,146.2 823.0,146.5C826.4,146.8 840.1,146.2 844.0,146.5C847.9,146.8 858.4,149.1 862.0,149.5C865.6,149.9 877.0,151.4 880.0,151.0C883.0,150.6 889.6,145.4 892.0,145.0C894.4,144.6 901.1,146.2 904.0,146.5C906.9,146.8 918.1,147.6 920.5,148.0C922.9,148.4 925.5,150.8 928.0,151.0C930.5,151.2 942.7,150.2 946.0,149.5C949.3,148.8 959.4,145.0 961.0,143.5C962.6,142.0 961.0,136.2 962.5,134.5C964.0,132.8 973.1,128.7 976.0,127.0C978.9,125.3 988.6,119.5 991.0,118.0C993.4,116.5 999.1,112.6 1000.0,112.0"/>
<path d="M823.0,146.5C822.8,147.7 822.1,156.2 821.0,158.0C819.9,159.8 814.1,163.2 812.0,164.0C809.9,164.8 801.8,166.0 800.0,166.0C798.2,166.0 794.9,164.7 794.0,164.0C793.1,163.3 792.4,159.4 791.0,159.0C789.6,158.6 782.3,159.9 780.0,160.0C777.7,160.1 770.2,159.7 768.0,160.0C765.8,160.3 759.6,162.4 758.0,163.0C756.4,163.6 753.4,165.9 752.0,166.0C750.6,166.1 745.8,163.9 744.0,164.0C742.2,164.1 735.8,166.5 734.0,167.0C732.2,167.5 726.7,168.1 726.0,169.0C725.3,169.9 727.6,174.5 727.0,176.0C726.4,177.5 721.7,182.4 720.0,184.0C718.3,185.6 712.4,190.6 710.0,192.0C707.6,193.4 699.0,196.9 696.0,198.0C693.0,199.1 681.6,202.5 680.0,203.0"/>
<path d="M821.0,160.0C822.1,160.9 830.0,167.3 832.0,169.0C834.0,170.7 838.6,175.8 841.0,176.5C843.4,177.2 853.0,176.7 856.0,176.5C859.0,176.3 869.0,175.0 871.0,175.0C873.0,175.0 875.0,176.3 875.5,176.5"/>
<path d="M731.5,191.5C732.1,191.3 736.3,189.4 737.5,189.4C738.7,189.4 743.5,190.9 743.5,191.5C743.5,192.1 738.7,195.4 737.5,195.4C736.3,195.4 732.1,191.9 731.5,191.5"/>
<path d="M718.0,205.0C719.2,205.9 727.3,213.4 730.0,214.0C732.7,214.6 742.6,211.8 745.0,211.0C747.4,210.2 751.0,207.1 754.0,206.5C757.0,205.9 770.2,205.0 775.0,205.0C779.8,205.0 797.5,206.8 802.0,206.5C806.5,206.2 817.3,202.6 820.0,202.0C822.7,201.4 829.0,200.9 829.0,200.5C829.0,200.1 822.1,197.9 820.0,197.5C817.9,197.1 808.3,196.9 808.0,196.0C807.7,195.1 816.1,189.2 817.0,188.5"/>
<path d="M745.0,199.0C746.5,199.2 759.1,199.8 760.0,200.5C760.9,201.2 754.6,205.9 754.0,206.5"/>
<path d="M499.0,189.0C499.7,188.5 503.9,184.0 506.0,184.0C508.1,184.0 517.4,189.0 520.0,189.0C522.6,189.0 530.2,185.3 532.0,184.0C533.8,182.7 536.4,177.1 538.0,176.0C539.6,174.9 546.2,172.7 548.0,173.0C549.8,173.3 554.0,178.5 556.0,179.0C558.0,179.5 566.0,178.7 568.0,178.0C570.0,177.3 574.3,172.9 576.0,172.0C577.7,171.1 583.8,168.9 585.0,169.0C586.2,169.1 586.3,172.5 588.0,173.0C589.7,173.5 599.4,173.5 602.0,174.0C604.6,174.5 611.2,177.5 614.0,178.0C616.8,178.5 627.2,178.7 630.0,179.0C632.8,179.3 640.8,180.8 642.0,181.0"/>
<path d="M499.0,189.0C499.5,189.9 502.9,196.7 504.0,198.0C505.1,199.3 509.8,201.0 510.0,202.0C510.2,203.0 505.8,207.1 506.0,208.0C506.2,208.9 510.8,211.0 512.0,211.0C513.2,211.0 517.2,207.8 518.0,208.0C518.8,208.2 518.8,212.0 520.0,213.0C521.2,214.0 528.4,216.7 530.0,218.0C531.6,219.3 535.4,225.2 536.0,226.0"/>
<path d="M498.0,220.0C498.8,219.4 504.6,214.9 506.0,214.0C507.4,213.1 511.4,211.3 512.0,211.0"/>
<path d="M549.0,194.0C549.3,193.2 551.1,187.1 552.0,186.0C552.9,184.9 556.9,182.8 558.0,183.0C559.1,183.2 562.6,186.7 563.0,188.0C563.4,189.3 562.7,195.0 562.0,196.0C561.3,197.0 557.3,198.2 556.0,198.0C554.7,197.8 549.7,194.4 549.0,194.0"/>
<path d="M606.0,206.0C606.8,205.6 612.5,202.4 614.0,202.4C615.5,202.4 621.0,205.2 621.0,206.0C621.0,206.8 615.5,210.0 614.0,210.0C612.5,210.0 606.8,206.4 606.0,206.0"/>
<path d="M745.0,20.0C744.9,20.9 743.9,26.9 744.0,29.0C744.1,31.1 746.0,39.4 746.5,41.0C747.0,42.6 750.5,44.0 749.5,44.8C748.5,45.5 737.9,47.5 736.0,48.5C734.1,49.5 732.4,53.2 731.0,54.5C729.6,55.8 723.4,60.4 722.5,61.0"/>
<path d="M700.0,69.5C700.6,70.4 705.0,77.0 706.0,78.5C707.0,80.0 709.9,83.3 710.5,84.5C711.1,85.7 711.9,89.9 712.0,90.5"/>
<path d="M745.0,0.0C744.9,1.0 744.0,8.0 744.0,10.0C744.0,12.0 744.9,19.0 745.0,20.0"/>
<path d="M240.0,216.0C241.2,216.7 249.6,221.5 252.0,223.0C254.4,224.5 262.2,229.3 264.0,231.0C265.8,232.7 269.1,238.4 270.0,240.0C270.9,241.6 273.2,245.8 273.0,247.0C272.8,248.2 269.1,251.1 268.0,252.0C266.9,252.9 262.1,254.6 262.0,256.0C261.9,257.4 265.7,264.5 267.0,266.0C268.3,267.5 274.0,270.0 275.0,271.0C276.0,272.0 277.5,275.6 277.0,276.0C276.5,276.4 271.3,275.6 270.0,275.0C268.7,274.4 265.1,271.3 264.0,270.0C262.9,268.7 260.1,263.6 259.0,262.0C257.9,260.4 253.7,255.3 253.0,254.0C252.3,252.7 251.3,249.7 252.0,249.0C252.7,248.3 258.4,246.7 260.0,247.0C261.6,247.3 267.2,251.5 268.0,252.0"/>
<path d="M240.0,166.0C240.4,166.4 244.0,169.0 244.0,170.0C244.0,171.0 240.4,175.4 240.0,176.0"/>
<path d="M240.0,194.0C240.2,194.8 242.0,200.5 242.0,202.0C242.0,203.5 240.2,208.3 240.0,209.0"/>
<path d="M279.0,287.0C279.3,287.4 281.7,290.6 282.0,291.0"/>
<path d="M440.0,202.0C439.4,202.4 434.5,204.8 434.0,206.0C433.5,207.2 435.4,212.0 435.0,214.0C434.6,216.0 430.2,223.8 430.0,226.0C429.8,228.2 432.0,234.2 433.0,236.0C434.0,237.8 438.6,242.3 440.0,244.0C441.4,245.7 445.5,250.4 447.0,252.5C448.5,254.6 453.5,263.0 455.0,265.0C456.5,267.0 460.5,271.0 462.0,272.5C463.5,274.0 468.7,278.0 470.0,280.0C471.3,282.0 475.5,290.5 475.0,292.5C474.5,294.5 466.8,299.0 465.0,300.0C463.2,301.0 458.8,303.0 457.0,302.5C455.2,302.0 448.2,296.4 447.0,295.0C445.8,293.6 444.5,289.8 445.0,289.0C445.5,288.2 451.3,287.6 452.0,287.5"/>
<path d="M437.0,200.0C438.3,199.5 448.2,195.0 450.0,195.0C451.8,195.0 455.3,198.8 455.0,200.0C454.7,201.2 446.8,206.2 447.0,207.5C447.2,208.8 454.2,211.2 457.0,212.5C459.8,213.8 472.7,218.0 475.0,220.0C477.3,222.0 478.5,230.5 480.0,232.5C481.5,234.5 488.0,239.0 490.0,240.0C492.0,241.0 499.0,242.2 500.0,242.5"/>
<path d="M476.0,224.0C477.1,223.6 484.6,220.2 487.0,220.0C489.4,219.8 498.7,222.2 500.0,222.5"/>
<path d="M427.0,315.0C428.3,314.9 437.5,313.9 440.0,314.0C442.5,314.1 450.3,316.4 452.0,316.0C453.7,315.6 455.2,311.1 457.0,310.0C458.8,308.9 467.5,305.0 470.0,305.0C472.5,305.0 479.5,308.2 482.0,310.0C484.5,311.8 493.2,321.0 495.0,322.5C496.8,324.0 498.2,324.2 500.0,325.0C501.8,325.8 510.0,329.4 512.5,330.0C515.0,330.6 523.1,330.0 525.0,331.0C526.9,332.0 530.6,338.1 531.0,340.0C531.4,341.9 528.9,348.0 529.0,350.0C529.1,352.0 531.1,358.4 532.5,360.0C533.9,361.6 540.4,365.4 542.5,366.0C544.6,366.6 552.9,365.1 554.0,366.0C555.1,366.9 554.8,373.9 554.0,375.0C553.2,376.1 547.6,377.9 546.0,377.5C544.4,377.1 539.1,372.1 537.5,371.0C535.9,369.9 531.2,367.2 530.0,366.0C528.8,364.8 525.6,360.6 525.0,359.0C524.4,357.4 525.0,351.0 524.0,350.0C523.0,349.0 517.4,349.4 515.0,349.0C512.6,348.6 501.5,346.3 500.0,346.0"/>
<path d="M480.0,295.0C480.6,294.8 485.7,292.3 486.0,292.5C486.3,292.7 483.3,296.6 483.0,297.0"/>
<path d="M492.0,292.5C492.8,293.2 499.2,299.2 500.0,300.0"/>
<path d="M304.0,324.0C304.5,323.4 307.9,318.4 309.0,317.5C310.1,316.6 314.6,314.0 315.0,315.0C315.4,316.0 313.4,325.9 312.5,327.5C311.6,329.1 306.9,331.4 306.0,331.0C305.1,330.6 304.2,324.7 304.0,324.0"/>
<path d="M289.0,357.5C289.6,356.6 293.8,350.5 295.0,349.0C296.2,347.5 300.1,342.1 301.0,342.5C301.9,342.9 302.9,350.8 304.0,352.5C305.1,354.2 311.1,358.8 312.5,360.0C313.9,361.2 317.5,364.1 317.5,365.0C317.5,365.9 314.0,369.1 312.5,369.0C311.0,368.9 304.1,365.0 302.5,364.0C300.9,363.0 297.4,359.6 296.0,359.0C294.6,358.4 289.7,357.6 289.0,357.5"/>
<path d="M307.5,339.0C308.1,339.9 313.8,346.4 314.0,347.5C314.2,348.6 310.4,349.8 310.0,350.0"/>
<path d="M305.0,382.5C305.6,382.1 309.5,378.8 311.0,379.0C312.5,379.2 318.5,383.6 320.0,385.0C321.5,386.4 326.2,391.5 326.0,392.5C325.8,393.5 319.2,395.4 317.5,395.0C315.8,394.6 310.2,390.2 309.0,389.0C307.8,387.8 305.4,383.1 305.0,382.5"/>
<path d="M322.5,321.0C323.2,321.6 328.6,325.7 330.0,327.5C331.4,329.3 335.5,337.0 336.0,339.0C336.5,341.0 334.1,346.4 335.0,347.5C335.9,348.6 343.2,350.5 345.0,350.0C346.8,349.5 351.1,342.5 352.5,342.5C353.9,342.5 357.2,349.1 359.0,350.0C360.8,350.9 367.9,351.1 370.0,351.0C372.1,350.9 377.8,349.4 380.0,349.0C382.2,348.6 390.0,347.4 392.5,347.5C395.0,347.6 402.5,349.6 405.0,350.0C407.5,350.4 416.0,351.5 417.5,351.0C419.0,350.5 419.0,344.7 420.0,345.0C421.0,345.3 425.8,353.4 427.5,354.0C429.2,354.6 435.5,350.4 437.5,351.0C439.5,351.6 445.2,358.9 447.5,360.0C449.8,361.1 457.9,361.9 460.0,362.5C462.1,363.1 468.5,365.1 469.0,366.0C469.5,366.9 466.9,370.5 465.0,371.0C463.1,371.5 451.8,370.5 450.0,371.0C448.2,371.5 447.2,375.2 447.5,376.0C447.8,376.8 453.2,379.1 452.5,379.0C451.8,378.9 442.8,376.0 440.0,375.0C437.2,374.0 428.0,370.1 425.0,369.0C422.0,367.9 413.0,365.3 410.0,364.0C407.0,362.7 397.5,357.1 395.0,356.0C392.5,354.9 387.0,352.4 385.0,352.5C383.0,352.6 377.0,356.5 375.0,357.5C373.0,358.5 367.2,362.2 365.0,362.5C362.8,362.8 354.0,359.2 352.5,360.0C351.0,360.8 351.5,368.1 350.0,370.0C348.5,371.9 338.9,377.6 337.5,379.0C336.1,380.4 335.2,383.0 336.0,384.0C336.8,385.0 343.6,387.6 345.0,389.0C346.4,390.4 348.5,396.1 350.0,397.5C351.5,398.9 358.2,401.2 360.0,402.5C361.8,403.8 366.4,408.2 367.5,410.0C368.6,411.8 371.4,418.0 371.0,420.0C370.6,422.0 364.6,428.0 364.0,430.0C363.4,432.0 364.1,438.2 365.0,440.0C365.9,441.8 372.0,445.8 372.5,447.5C373.0,449.2 369.8,456.1 370.0,457.5C370.2,458.9 373.5,460.8 375.0,461.0C376.5,461.2 383.9,461.6 385.0,460.0C386.1,458.4 385.0,446.9 386.0,445.0C387.0,443.1 393.6,440.9 395.0,441.0C396.4,441.1 398.5,444.4 400.0,446.0C401.5,447.6 408.5,455.1 410.0,457.5C411.5,459.9 414.8,468.0 415.0,470.0C415.2,472.0 411.9,476.0 412.5,477.5C413.1,479.0 420.0,485.8 421.0,485.0C422.0,484.2 421.7,472.6 422.5,470.0C423.3,467.4 427.2,460.2 429.0,459.0C430.8,457.8 438.5,456.6 440.0,457.5C441.5,458.4 442.5,466.2 444.0,467.5C445.5,468.8 452.9,468.5 455.0,470.0C457.1,471.5 464.0,481.2 465.0,482.5"/>
<path d="M437.5,405.0C438.2,405.1 443.2,405.5 445.0,406.0C446.8,406.5 453.4,408.6 455.0,410.0C456.6,411.4 461.5,418.2 461.0,420.0C460.5,421.8 450.9,425.8 450.0,427.5C449.1,429.2 451.8,435.2 452.5,437.5C453.2,439.8 456.9,447.6 457.5,450.0C458.1,452.4 459.2,459.0 459.0,461.0C458.8,463.0 455.4,469.1 455.0,470.0"/>
<path d="M437.5,405.0C437.8,406.0 439.0,412.8 440.0,415.0C441.0,417.2 446.8,426.2 447.5,427.5"/>
<path d="M461.0,420.0C462.4,419.5 472.5,416.0 475.0,415.0C477.5,414.0 485.8,411.0 486.0,410.0C486.2,409.0 478.2,405.9 477.5,405.0C476.8,404.1 480.0,401.0 479.0,401.0C478.0,401.0 469.0,405.6 467.5,405.0C466.0,404.4 464.4,396.8 464.0,395.0C463.6,393.2 464.9,388.5 464.0,387.5C463.1,386.5 454.9,385.9 455.0,385.0C455.1,384.1 462.5,379.9 465.0,379.0C467.5,378.1 477.5,376.6 480.0,376.0C482.5,375.4 489.6,371.7 490.0,372.5C490.4,373.3 483.9,383.2 484.0,384.0C484.1,384.8 490.3,380.4 491.0,380.0"/>
<path d="M482.5,392.5C483.1,392.4 488.6,390.6 489.0,391.0C489.4,391.4 486.6,395.9 486.0,396.0C485.4,396.1 482.9,392.9 482.5,392.5"/>
<path d="M479.0,421.0C480.0,420.8 488.6,418.7 489.0,419.0C489.4,419.3 484.0,423.8 483.0,424.0C482.0,424.2 479.4,421.3 479.0,421.0"/>
<path d="M427.5,315.0C428.8,314.9 437.0,314.5 440.0,314.0C443.0,313.5 457.0,309.6 457.5,310.0C458.0,310.4 444.8,316.2 445.0,317.5C445.2,318.8 457.2,321.4 460.0,322.5C462.8,323.6 470.8,327.8 472.5,329.0C474.2,330.2 475.8,334.1 477.5,335.0C479.2,335.9 488.0,336.5 490.0,337.5C492.0,338.5 496.5,343.6 497.5,345.0C498.5,346.4 499.8,350.4 500.0,351.0"/>
<path d="M482.5,312.5C483.2,313.2 488.2,319.0 490.0,320.0C491.8,321.0 499.0,322.2 500.0,322.5"/>
<path d="M447.5,487.5C448.0,488.0 452.0,492.0 452.5,492.5"/>
<path d="M500.0,354.0C501.5,354.5 512.8,358.1 515.0,359.0C517.2,359.9 522.2,361.4 522.5,362.5C522.8,363.6 517.9,368.2 517.5,370.0C517.1,371.8 518.4,377.8 519.0,380.0C519.6,382.2 523.9,390.6 524.0,392.5C524.1,394.4 521.3,398.6 520.0,399.0C518.7,399.4 512.5,397.0 511.0,396.0C509.5,395.0 506.1,390.4 505.0,389.0C503.9,387.6 500.5,383.1 500.0,382.5"/>
<path d="M546.0,312.5C546.4,312.1 549.0,308.9 550.0,309.0C551.0,309.1 555.0,312.6 556.0,314.0C557.0,315.4 560.2,321.8 560.0,322.5C559.8,323.2 555.4,322.0 554.0,321.0C552.6,320.0 546.8,313.4 546.0,312.5"/>
<path d="M561.0,377.5C561.9,377.4 568.4,375.2 570.0,376.0C571.6,376.8 576.5,383.1 577.5,385.0C578.5,386.9 580.5,394.4 580.0,395.0C579.5,395.6 574.0,392.0 572.5,391.0C571.0,390.0 566.1,386.4 565.0,385.0C563.9,383.6 561.4,378.2 561.0,377.5"/>
<path d="M580.0,399.0C581.0,399.1 588.4,399.6 590.0,400.0C591.6,400.4 595.6,401.8 596.0,402.5C596.4,403.2 595.1,407.4 594.0,407.5C592.9,407.6 586.4,404.9 585.0,404.0C583.6,403.1 580.5,399.5 580.0,399.0"/>
<path d="M536.0,399.0C536.6,398.9 542.0,396.9 542.5,397.5C543.0,398.1 541.6,404.0 541.0,405.0C540.4,406.0 536.5,408.1 536.0,407.5C535.5,406.9 536.0,399.9 536.0,399.0"/>
<path d="M542.5,414.0C543.0,413.9 547.2,411.8 547.5,412.5C547.8,413.2 545.6,420.2 545.0,421.0C544.4,421.8 541.2,420.7 541.0,420.0C540.8,419.3 542.4,414.6 542.5,414.0"/>
<path d="M574.0,416.0C574.4,415.4 577.0,409.9 577.5,410.0C578.0,410.1 579.9,416.9 579.5,417.5C579.1,418.1 574.5,416.1 574.0,416.0"/>
<path d="M600.0,411.0C600.9,410.9 608.4,409.6 609.0,410.0C609.6,410.4 606.9,414.9 606.0,415.0C605.1,415.1 600.6,411.4 600.0,411.0"/>
<path d="M545.0,432.5C545.6,432.4 550.5,430.6 551.0,431.0C551.5,431.4 550.6,435.9 550.0,436.0C549.4,436.1 545.5,432.9 545.0,432.5"/>
<path d="M560.0,442.5C560.6,442.8 565.6,444.4 566.0,445.0C566.4,445.6 564.6,449.2 564.0,449.0C563.4,448.8 560.4,443.1 560.0,442.5"/>
<path d="M584.0,445.0C585.0,444.1 592.4,437.1 594.0,436.0C595.6,434.9 599.8,433.4 600.0,434.0C600.2,434.6 597.2,441.3 596.0,442.5C594.8,443.7 589.2,445.8 588.0,446.0C586.8,446.2 584.4,445.1 584.0,445.0"/>
<path d="M604.0,440.0C604.6,439.2 608.6,433.4 610.0,432.5C611.4,431.6 616.5,430.5 617.5,431.0C618.5,431.5 620.2,435.9 620.0,437.5C619.8,439.1 616.2,446.6 615.0,447.5C613.8,448.4 608.6,446.8 607.5,446.0C606.4,445.2 604.4,440.6 604.0,440.0"/>
<path d="M540.0,464.0C541.0,463.6 548.5,460.9 550.0,460.0C551.5,459.1 555.2,454.2 555.0,455.0C554.8,455.8 549.0,466.6 547.5,467.5C546.0,468.4 540.8,464.4 540.0,464.0"/>
<path d="M597.5,460.0C598.2,460.2 604.0,461.9 605.0,462.5C606.0,463.1 607.2,465.6 607.5,466.0"/>
<path d="M664.0,474.0C664.9,473.5 671.3,469.3 672.5,469.0C673.7,468.7 676.5,470.3 676.0,471.0C675.5,471.7 668.7,475.7 667.5,476.0C666.3,476.3 664.4,474.2 664.0,474.0"/>
<path d="M660.0,350.0C661.0,350.4 668.0,353.0 670.0,354.0C672.0,355.0 678.1,359.5 680.0,360.0C681.9,360.5 687.2,358.1 689.0,359.0C690.8,359.9 695.4,367.9 697.5,369.0C699.6,370.1 707.5,369.4 710.0,370.0C712.5,370.6 721.1,373.5 722.5,375.0C723.9,376.5 724.5,383.0 724.0,385.0C723.5,387.0 717.8,393.0 717.5,395.0C717.2,397.0 720.5,402.9 721.0,405.0C721.5,407.1 721.4,415.1 722.5,416.0C723.6,416.9 730.8,413.5 732.5,414.0C734.2,414.5 738.5,419.9 740.0,421.0C741.5,422.1 747.2,423.9 747.5,425.0C747.8,426.1 742.2,431.4 742.5,432.5C742.8,433.6 749.2,435.6 750.0,436.0"/>
<path d="M681.0,390.0C682.1,389.6 689.9,386.2 692.5,386.0C695.1,385.8 705.0,387.0 707.5,387.5C710.0,388.0 718.2,390.1 717.5,391.0C716.8,391.9 703.2,395.6 700.0,396.0C696.8,396.4 686.9,395.6 685.0,395.0C683.1,394.4 681.4,390.5 681.0,390.0"/>
<path d="M644.0,405.0C645.1,404.5 652.8,400.9 655.0,400.0C657.2,399.1 665.5,395.8 666.0,396.0C666.5,396.2 661.9,401.2 660.0,402.5C658.1,403.8 649.1,408.8 647.5,409.0C645.9,409.2 644.4,405.4 644.0,405.0"/>
<path d="M631.0,337.5C632.1,337.0 640.4,332.5 642.5,332.5C644.6,332.5 651.6,335.4 652.5,337.5C653.4,339.6 651.9,351.4 651.0,354.0C650.1,356.6 645.6,363.6 644.0,364.0C642.4,364.4 635.0,358.8 635.0,357.5C635.0,356.2 643.5,352.6 644.0,351.0C644.5,349.4 641.3,342.4 640.0,341.0C638.7,339.6 631.9,337.9 631.0,337.5"/>
<path d="M664.0,330.0C665.1,329.9 673.1,328.0 675.0,329.0C676.9,330.0 681.4,337.9 682.5,340.0C683.6,342.1 684.2,349.4 686.0,350.0C687.8,350.6 697.4,346.8 700.0,346.0C702.6,345.2 712.5,342.7 712.5,342.5C712.5,342.3 702.5,343.8 700.0,344.0C697.5,344.2 688.8,344.9 687.5,345.0"/>
<path d="M614.0,334.0C614.4,334.4 617.4,337.0 617.5,337.5C617.6,338.0 615.4,339.4 615.0,339.0C614.6,338.6 614.1,334.5 614.0,334.0"/>
<path d="M692.5,322.5C693.0,323.5 697.2,331.0 697.5,332.5C697.8,334.0 695.2,337.0 695.0,337.5"/>
<path d="M701.0,435.0C701.9,435.5 709.0,438.9 710.0,440.0C711.0,441.1 711.5,445.4 711.0,446.0C710.5,446.6 706.0,447.1 705.0,446.0C704.0,444.9 701.4,436.1 701.0,435.0"/>
<path d="M724.0,439.0C725.1,439.5 732.9,444.0 735.0,444.0C737.1,444.0 743.5,439.4 745.0,439.0C746.5,438.6 749.5,439.9 750.0,440.0"/>
<path d="M705.0,459.0C706.2,458.6 715.0,455.9 717.5,455.0C720.0,454.1 729.6,450.2 730.0,450.0C730.4,449.8 721.9,452.7 721.0,453.0"/>
<path d="M735.0,461.0C736.5,460.5 748.5,456.5 750.0,456.0"/>
<path d="M750.0,445.0C751.0,444.5 757.2,440.8 760.0,440.0C762.8,439.2 774.5,437.9 777.5,437.5C780.5,437.1 789.2,435.5 790.0,436.0C790.8,436.5 786.5,441.6 785.0,442.5C783.5,443.4 775.8,444.2 775.0,445.0C774.2,445.8 778.5,449.0 777.5,450.0C776.5,451.0 767.8,454.2 765.0,455.0C762.2,455.8 751.5,457.2 750.0,457.5"/>
<path d="M789.0,450.0C790.1,449.9 797.6,448.8 800.0,449.0C802.4,449.2 809.5,451.5 812.5,452.5C815.5,453.5 827.8,458.8 830.0,459.0C832.2,459.2 833.8,454.9 835.0,455.0C836.2,455.1 841.4,458.5 842.5,460.0C843.6,461.5 845.2,468.0 846.0,470.0C846.8,472.0 849.6,479.0 850.0,480.0"/>
<path d="M760.0,466.0C760.5,465.9 764.6,464.4 765.0,465.0C765.4,465.6 764.5,472.4 764.0,472.5C763.5,472.6 760.4,466.6 760.0,466.0"/>
<path d="M775.0,465.0C776.0,464.5 784.8,459.6 785.0,460.0C785.2,460.4 778.5,468.5 777.5,469.0C776.5,469.5 775.2,465.4 775.0,465.0"/>
<path d="M775.0,480.0C776.2,479.8 786.0,477.2 787.5,477.5C789.0,477.8 789.8,482.4 790.0,483.0"/>
<path d="M941.0,345.0C941.6,344.8 946.6,341.9 947.5,342.5C948.4,343.1 949.5,349.2 950.0,351.0C950.5,352.8 952.5,357.9 952.5,360.0C952.5,362.1 950.9,371.9 950.0,372.5C949.1,373.1 944.2,367.5 944.0,366.0C943.8,364.5 947.6,359.0 947.5,357.5C947.4,356.0 943.1,352.2 942.5,351.0C941.9,349.8 941.1,345.6 941.0,345.0"/>
<path d="M979.0,362.5C979.9,362.4 986.9,360.0 987.5,361.0C988.1,362.0 984.6,370.0 985.0,372.5C985.4,375.0 989.5,385.0 991.0,386.0C992.5,387.0 999.1,382.9 1000.0,382.5"/>
<path d="M937.5,483.0C937.4,481.7 935.9,472.8 936.0,470.0C936.1,467.2 938.6,457.8 939.0,455.0C939.4,452.2 939.1,444.1 940.0,442.5C940.9,440.9 945.2,439.2 947.5,439.0C949.8,438.8 959.8,440.0 962.5,440.0C965.2,440.0 971.2,438.5 975.0,439.0C978.8,439.5 997.5,444.4 1000.0,445.0"/>
<path d="M915.0,483.0C916.0,482.7 923.5,480.0 925.0,480.0C926.5,480.0 929.5,482.7 930.0,483.0"/>
<path d="M757.5,497.0C758.5,495.8 765.1,486.9 768.0,485.0C770.9,483.1 783.9,477.5 786.0,477.5C788.1,477.5 789.6,482.4 789.0,485.0C788.4,487.6 782.1,500.0 780.0,503.0C777.9,506.0 770.1,514.1 768.0,515.0C765.9,515.9 760.0,513.8 759.0,512.0C758.0,510.2 757.6,498.5 757.5,497.0"/>
<path d="M846.0,470.0C847.2,471.2 855.6,479.8 858.0,482.0C860.4,484.2 867.0,491.4 870.0,492.5C873.0,493.6 883.8,493.2 888.0,492.5C892.2,491.8 907.8,485.9 912.0,485.0C916.2,484.1 927.5,484.4 930.0,483.5C932.5,482.6 937.0,477.4 937.5,476.0C938.0,474.6 934.8,470.6 934.5,470.0"/>
<path d="M500.0,537.5C501.2,538.2 509.9,544.1 512.0,545.0C514.1,545.9 519.5,547.0 521.0,546.5C522.5,546.0 526.1,540.4 527.0,540.5C527.9,540.6 529.1,547.1 530.0,548.0C530.9,548.9 535.4,548.6 536.0,549.5C536.6,550.4 534.5,556.2 536.0,557.0C537.5,557.8 548.1,557.5 551.0,557.0C553.9,556.5 562.1,553.0 564.5,552.5C566.9,552.0 573.0,552.4 575.0,552.5C577.0,552.6 582.5,553.4 584.0,554.0C585.5,554.6 587.6,558.0 590.0,558.5C592.4,559.0 603.8,558.6 608.0,558.5C612.2,558.4 629.5,556.5 632.0,557.0C634.5,557.5 633.8,561.8 633.5,563.0C633.2,564.2 628.5,568.1 629.0,569.0C629.5,569.9 636.2,572.1 638.0,572.0C639.8,571.9 644.9,568.4 647.0,567.5C649.1,566.6 656.9,563.9 659.0,563.0C661.1,562.1 667.0,557.9 668.0,558.5C669.0,559.1 669.8,567.2 669.5,569.0C669.2,570.8 666.4,575.5 665.0,576.5C663.6,577.5 658.1,579.4 656.0,579.5C653.9,579.6 646.4,577.9 644.0,578.0C641.6,578.1 635.0,580.5 632.0,581.0C629.0,581.5 617.6,582.0 614.0,582.5C610.4,583.0 600.5,585.0 596.0,585.5C591.5,586.0 572.0,587.8 569.0,587.0C566.0,586.2 567.5,579.2 566.0,578.0C564.5,576.8 556.4,575.9 554.0,575.0C551.6,574.1 545.3,569.8 542.0,569.0C538.7,568.2 525.2,567.8 521.0,567.5C516.8,567.2 502.1,566.1 500.0,566.0"/>
<path d="M725.0,522.5C724.7,523.7 722.6,532.4 722.0,534.5C721.4,536.6 719.1,542.0 719.0,543.5C718.9,545.0 719.8,549.5 720.5,549.5C721.2,549.5 725.9,545.8 726.5,543.5C727.1,541.2 726.6,529.1 726.5,527.0C726.4,524.9 725.1,523.0 725.0,522.5"/>
<path d="M704.0,552.5C705.0,552.1 713.5,549.0 714.5,548.6"/>
<path d="M606.5,480.5C607.1,480.8 612.0,482.6 612.5,483.5C613.0,484.4 611.6,489.2 611.0,489.5C610.4,489.8 607.0,486.9 606.5,486.0C606.0,485.1 606.5,481.1 606.5,480.5"/>
<path d="M629.0,485.0C629.5,485.1 633.4,486.1 633.5,486.5C633.6,486.9 631.0,489.1 630.5,489.0C630.0,488.9 629.1,485.4 629.0,485.0"/>
<path d="M663.5,471.5C664.4,471.4 671.9,469.6 672.5,470.0C673.1,470.4 670.4,475.9 669.5,476.0C668.6,476.1 664.1,471.9 663.5,471.5"/>
<path d="M729.5,479.0C730.4,479.4 737.6,483.1 738.5,483.5"/>
<path d="M522.5,591.5C522.8,591.7 525.5,593.2 525.5,593.6C525.5,594.0 523.3,595.2 523.0,595.0C522.7,594.8 522.5,591.9 522.5,591.5"/>
<path d="M413.5,470.0C413.9,471.2 417.1,480.5 418.0,482.0C418.9,483.5 422.2,485.9 422.5,485.0C422.8,484.1 421.1,474.2 421.0,473.0"/>
<path d="M446.5,491.0C446.9,490.6 449.8,486.2 451.0,486.5C452.2,486.8 458.2,492.4 458.5,494.0C458.8,495.6 455.1,502.6 454.0,503.0C452.9,503.4 448.8,499.7 448.0,498.5C447.2,497.3 446.6,491.8 446.5,491.0"/>
<path d="M457.0,473.0C457.8,473.9 464.2,481.7 464.5,482.0C464.8,482.3 460.4,476.6 460.0,476.0"/>
<path d="M490.0,542.0C490.9,541.7 498.2,537.2 499.0,539.0C499.8,540.8 498.6,557.6 497.5,560.0C496.4,562.4 489.2,564.8 488.5,563.0C487.8,561.2 489.9,544.1 490.0,542.0"/>
<path d="M472.0,521.0C472.3,521.5 474.7,525.0 475.0,525.5"/>
<path d="M28.5,270.0C28.6,271.2 29.2,279.6 30.0,282.0C30.8,284.4 35.7,291.6 36.0,294.0C36.3,296.4 34.8,304.5 33.0,306.0C31.2,307.5 20.2,308.1 18.0,309.0C15.8,309.9 10.9,313.5 10.5,315.0C10.1,316.5 13.9,322.1 13.5,324.0C13.1,325.9 7.3,333.1 6.0,334.5C4.7,335.9 0.6,337.2 0.0,337.5"/>
<path d="M93.0,270.0C92.8,271.8 91.2,285.8 91.5,288.0C91.8,290.2 96.8,291.4 96.0,292.5C95.2,293.6 86.4,297.9 84.0,298.5C81.6,299.1 74.8,297.6 72.0,298.5C69.2,299.4 57.3,304.6 55.5,307.5C53.7,310.4 55.0,324.3 54.0,327.0C53.0,329.7 47.4,332.9 45.0,334.5C42.6,336.1 32.2,341.2 30.0,343.5C27.8,345.8 24.0,355.2 22.5,357.0C21.0,358.8 17.2,361.2 15.0,361.5C12.8,361.8 1.5,360.1 0.0,360.0"/>
<path d="M244.0,130.0C244.1,131.0 244.7,137.5 245.0,140.0C245.3,142.5 247.8,152.0 247.5,155.0C247.2,158.0 243.7,166.9 242.5,170.0C241.3,173.1 236.7,184.4 236.0,186.0"/>
<path d="M500.0,222.5C500.8,222.8 506.0,225.2 507.5,226.0C509.0,226.8 514.0,228.8 515.0,230.0C516.0,231.2 517.6,236.2 517.5,237.5C517.4,238.8 515.1,242.5 514.0,242.5C512.9,242.5 507.1,238.8 506.0,237.5C504.9,236.2 503.1,231.5 502.5,230.0C501.9,228.5 500.2,223.2 500.0,222.5"/>
<path d="M582.5,237.5C583.2,237.6 588.6,237.8 590.0,238.0C591.4,238.2 594.5,240.3 596.0,240.0C597.5,239.7 604.6,234.5 605.0,235.0C605.4,235.5 600.4,243.4 600.0,245.0C599.6,246.6 601.4,250.5 601.0,251.0C600.6,251.5 596.6,250.6 596.0,250.0C595.4,249.4 595.6,245.2 595.0,245.0C594.4,244.8 590.6,246.8 590.0,247.5C589.4,248.2 589.6,252.5 589.0,252.5C588.4,252.5 584.8,248.5 584.0,247.5C583.2,246.5 581.1,243.5 581.0,242.5C580.9,241.5 582.4,238.0 582.5,237.5"/>
<path d="M577.5,270.0C577.9,269.9 580.8,268.6 581.0,269.0C581.2,269.4 580.4,273.9 580.0,274.0C579.6,274.1 577.8,270.4 577.5,270.0"/>
<path d="M507.5,290.0C508.1,289.8 513.6,287.0 514.0,287.5C514.4,288.0 511.3,294.2 511.0,295.0"/>
<path d="M651.0,217.5C651.3,218.8 652.9,229.2 654.0,230.0C655.1,230.8 661.4,226.9 662.5,226.0C663.6,225.1 663.8,222.1 665.0,221.0C666.2,219.9 673.5,216.3 675.0,215.0C676.5,213.7 678.5,208.2 680.0,207.5C681.5,206.8 688.0,207.4 690.0,207.5C692.0,207.6 699.0,207.9 700.0,208.0"/>
<path d="M650.0,237.5C650.0,238.8 649.5,247.8 649.5,250.0C649.5,252.2 650.5,258.0 650.0,260.0C649.5,262.0 645.2,268.6 645.0,270.0C644.8,271.4 646.0,273.8 647.5,274.0C649.0,274.2 657.2,273.0 660.0,272.5C662.8,272.0 672.0,269.6 675.0,269.0C678.0,268.4 687.8,266.4 690.0,266.0C692.2,265.6 696.6,264.6 697.5,265.0C698.4,265.4 699.8,268.8 699.0,270.0C698.2,271.2 691.8,275.9 690.0,277.5C688.2,279.1 681.4,284.8 681.0,286.0C680.6,287.2 684.9,288.9 686.0,290.0C687.1,291.1 691.6,296.2 692.5,297.5C693.4,298.8 695.0,301.5 695.0,302.5C695.0,303.5 692.0,306.6 692.5,307.5C693.0,308.4 699.2,310.6 700.0,311.0"/>
<path d="M632.5,287.5C633.6,287.1 641.8,284.8 644.0,284.0C646.2,283.2 653.1,280.3 655.0,280.0C656.9,279.7 661.4,280.0 662.5,281.0C663.6,282.0 665.0,288.5 666.0,290.0C667.0,291.5 671.2,294.8 672.5,296.0C673.8,297.2 679.0,301.5 679.0,302.5C679.0,303.5 674.4,305.8 672.5,306.0C670.6,306.2 662.2,305.4 660.0,305.0C657.8,304.6 651.8,303.2 650.0,302.5C648.2,301.8 644.2,298.5 642.5,297.5C640.8,296.5 633.5,293.5 632.5,292.5C631.5,291.5 632.5,288.0 632.5,287.5"/>
<path d="M647.5,296.0C648.4,295.5 654.9,291.1 656.0,291.0C657.1,290.9 659.6,294.0 659.0,295.0C658.4,296.0 651.1,300.9 650.0,301.0C648.9,301.1 647.8,296.5 647.5,296.0"/>
<path d="M719.0,205.0C720.1,205.8 727.9,211.8 730.0,212.5C732.1,213.2 738.0,212.8 740.0,212.5C742.0,212.2 749.0,210.2 750.0,210.0"/>
</g>
<g clip-path="url(#mc)" fill="none" stroke="#e8e8e8" stroke-width="1.1" stroke-dasharray="5,3" shape-rendering="crispEdges">
<path d="M798.0,0.0C796.5,3.2 790.5,12.2 789.0,19.0C787.5,25.8 787.8,34.6 789.0,41.0C790.2,47.4 792.8,53.4 796.0,57.6C799.2,61.8 800.8,63.9 808.0,66.0C815.2,68.1 831.0,68.2 839.0,70.0C847.0,71.8 850.0,74.5 856.0,77.0C862.0,79.5 868.7,82.8 875.0,85.0C881.3,87.2 885.2,89.3 894.0,90.0C902.8,90.7 916.3,89.8 928.0,89.0C939.7,88.2 952.0,86.0 964.0,85.0C976.0,84.0 992.3,83.3 1000.0,83.0C1007.7,82.7 1008.3,83.0 1010.0,83.0"/>
<path d="M820.0,0.0C818.0,2.4 810.7,10.0 808.0,14.4C805.3,18.8 804.0,22.0 804.0,26.4C804.0,30.8 805.7,37.2 808.0,41.0C810.3,44.8 812.8,46.8 817.6,49.0C822.4,51.2 830.6,52.6 837.0,54.0C843.4,55.4 844.8,56.9 856.0,57.6C867.2,58.3 891.2,57.6 904.0,58.0C916.8,58.4 924.2,58.8 933.0,60.0C941.8,61.2 949.8,64.4 957.0,65.0C964.2,65.6 968.8,64.4 976.0,63.6C983.2,62.8 994.3,60.8 1000.0,60.0C1005.7,59.2 1008.3,59.2 1010.0,59.0"/>
<path d="M936.0,0.0C936.3,2.0 936.1,8.6 937.6,12.0C939.1,15.4 940.6,18.0 945.0,20.4C949.4,22.8 954.8,24.4 964.0,26.4C973.2,28.4 992.3,31.3 1000.0,32.4C1007.7,33.5 1008.3,32.9 1010.0,33.0"/>
</g>
<g clip-path="url(#mc)" fill="none" stroke="#000" stroke-width="2" stroke-linecap="round" stroke-linejoin="round" shape-rendering="crispEdges">
<path d="M-3.0,163.0C-2.5,163.3 -2.2,163.4 0.0,165.0C2.2,166.6 6.8,169.6 10.0,172.5C13.2,175.4 16.7,178.8 19.0,182.5C21.3,186.2 23.0,190.8 24.0,195.0C25.0,199.2 24.4,203.8 25.0,207.5C25.6,211.2 26.2,214.9 27.5,217.5C28.8,220.1 30.0,221.9 32.5,223.0C35.0,224.1 39.6,224.3 42.5,224.0C45.4,223.7 48.2,222.5 50.0,221.0C51.8,219.5 52.7,218.5 53.0,215.0C53.3,211.5 52.3,204.6 52.0,200.0C51.7,195.4 50.3,191.2 51.0,187.5C51.7,183.8 53.2,180.8 56.0,177.5C58.8,174.2 63.1,170.4 67.5,167.5C71.9,164.6 77.8,162.1 82.5,160.0C87.2,157.9 93.8,155.8 96.0,155.0"/>
<path d="M96.0,155.0C95.0,152.9 91.8,145.8 90.0,142.5C88.2,139.2 87.5,139.2 85.0,135.0C82.5,130.8 77.0,122.8 75.0,117.0C73.0,111.2 73.0,105.2 73.0,100.0C73.0,94.8 73.2,89.8 75.0,86.0C76.8,82.2 79.8,79.2 84.0,77.0C88.2,74.8 94.5,73.7 100.0,73.0C105.5,72.3 110.3,72.0 117.0,73.0C123.7,74.0 133.3,76.8 140.0,79.0C146.7,81.2 152.0,83.2 157.0,86.0C162.0,88.8 165.8,92.0 170.0,96.0C174.2,100.0 177.5,105.2 182.0,110.0C186.5,114.8 192.0,120.7 197.0,125.0C202.0,129.3 206.5,132.7 212.0,136.0C217.5,139.3 224.7,142.5 230.0,145.0C235.3,147.5 240.7,147.7 244.0,151.0C247.3,154.3 247.3,159.8 250.0,165.0C252.7,170.2 257.5,177.1 260.0,182.5C262.5,187.9 264.8,192.5 265.0,197.5C265.2,202.5 262.2,207.5 261.0,212.5C259.8,217.5 257.2,222.5 257.5,227.5C257.8,232.5 259.6,237.9 262.5,242.5C265.4,247.1 270.8,250.8 275.0,255.0C279.2,259.2 284.2,263.3 287.5,267.5C290.8,271.7 292.1,275.8 295.0,280.0C297.9,284.2 301.7,288.8 305.0,292.5C308.3,296.2 312.7,298.8 315.0,302.5C317.3,306.2 318.2,311.4 319.0,315.0C319.8,318.6 319.3,320.7 320.0,324.0C320.7,327.3 320.5,331.1 323.0,335.0C325.5,338.9 330.5,342.9 335.0,347.5C339.5,352.1 345.4,357.5 350.0,362.5C354.6,367.5 359.2,372.1 362.5,377.5C365.8,382.9 367.5,390.0 370.0,395.0C372.5,400.0 374.2,402.9 377.5,407.5C380.8,412.1 385.4,417.9 390.0,422.5C394.6,427.1 401.0,431.1 405.0,435.0C409.0,438.9 411.9,442.2 414.0,446.0C416.1,449.8 415.7,454.2 417.5,457.5C419.3,460.8 421.7,463.8 425.0,466.0C428.3,468.2 433.3,469.7 437.5,471.0C441.7,472.3 446.2,474.2 450.0,474.0C453.8,473.8 456.7,472.3 460.0,470.0C463.3,467.7 466.7,463.8 470.0,460.0C473.3,456.2 477.3,450.8 480.0,447.5C482.7,444.2 482.7,441.3 486.0,440.0C489.3,438.7 495.2,438.8 500.0,439.5C504.8,440.2 510.4,441.8 515.0,444.0C519.6,446.2 523.8,449.2 527.5,452.5C531.2,455.8 534.2,461.2 537.5,464.0C540.8,466.8 543.3,468.7 547.5,469.0C551.7,469.3 557.1,467.3 562.5,466.0C567.9,464.7 574.6,461.2 580.0,461.0C585.4,460.8 590.0,463.5 595.0,465.0C600.0,466.5 605.0,470.0 610.0,470.0C615.0,470.0 619.6,468.2 625.0,465.0C630.4,461.8 636.7,454.3 642.5,451.0C648.3,447.7 653.8,446.8 660.0,445.0C666.2,443.2 673.3,441.8 680.0,440.0C686.7,438.2 694.6,435.8 700.0,434.5C705.4,433.2 707.5,432.6 712.5,432.5C717.5,432.4 723.8,432.9 730.0,434.0C736.2,435.1 744.2,436.8 750.0,439.0C755.8,441.2 759.6,444.8 765.0,447.5C770.4,450.2 776.7,452.8 782.5,455.0C788.3,457.2 793.8,460.0 800.0,461.0C806.2,462.0 813.8,461.0 820.0,461.0C826.2,461.0 833.3,459.9 837.5,461.0C841.7,462.1 842.5,464.8 845.0,467.5C847.5,470.2 850.3,475.1 852.5,477.5C854.7,479.9 854.1,479.0 858.0,482.0C861.9,485.0 869.0,493.1 876.0,495.5C883.0,497.9 892.5,496.1 900.0,496.4C907.5,496.6 916.2,496.1 921.0,497.0C925.8,497.9 927.5,498.0 928.5,501.5C929.5,505.0 928.8,512.2 927.0,518.0C925.2,523.8 922.0,530.0 918.0,536.0C914.0,542.0 908.5,549.2 903.0,554.0C897.5,558.8 890.5,562.4 885.0,564.5C879.5,566.6 876.0,567.0 870.0,566.6C864.0,566.2 855.0,562.8 849.0,562.4C843.0,562.0 838.2,563.1 834.0,564.5C829.8,565.9 825.0,568.2 823.5,570.5C822.0,572.8 822.2,575.2 825.0,578.0C827.8,580.8 835.5,583.8 840.0,587.0C844.5,590.2 849.2,593.5 852.0,597.5C854.8,601.5 856.5,606.2 856.5,611.0C856.5,615.8 854.8,620.8 852.0,626.0C849.2,631.2 843.5,637.0 840.0,642.5C836.5,648.0 833.5,653.8 831.0,659.0C828.5,664.2 826.5,669.5 825.0,674.0C823.5,678.5 822.5,684.0 822.0,686.0"/>
<path d="M246.0,-3.0C245.7,-0.5 244.2,7.5 244.0,12.0C243.8,16.5 244.0,21.7 245.0,24.0C246.0,26.3 245.0,25.0 250.0,26.0C255.0,27.0 268.0,28.3 275.0,30.0C282.0,31.7 286.7,33.5 292.0,36.0C297.3,38.5 301.5,42.8 307.0,45.0C312.5,47.2 317.8,48.0 325.0,49.5C332.2,51.0 342.5,52.4 350.0,54.0C357.5,55.6 363.8,56.8 370.0,59.0C376.2,61.2 382.0,65.0 387.0,67.0C392.0,69.0 395.8,70.7 400.0,71.0C404.2,71.3 407.5,69.8 412.0,69.0C416.5,68.2 421.5,66.0 427.0,66.0C432.5,66.0 439.2,67.7 445.0,69.0C450.8,70.3 456.2,72.0 462.0,74.0C467.8,76.0 475.0,78.2 480.0,81.0C485.0,83.8 489.0,88.2 492.0,91.0C495.0,93.8 495.3,94.8 498.0,98.0C500.7,101.2 504.3,106.5 508.0,110.0C511.7,113.5 515.3,117.2 520.0,119.0C524.7,120.8 531.0,120.0 536.0,121.0C541.0,122.0 545.7,123.2 550.0,125.0C554.3,126.8 558.3,128.7 562.0,132.0C565.7,135.3 568.7,141.0 572.0,145.0C575.3,149.0 577.3,152.5 582.0,156.0C586.7,159.5 595.0,162.2 600.0,166.0C605.0,169.8 607.8,175.0 612.0,179.0C616.2,183.0 620.8,186.7 625.0,190.0C629.2,193.3 632.0,197.0 637.0,199.0C642.0,201.0 648.7,201.2 655.0,202.0C661.3,202.8 667.5,203.5 675.0,204.0C682.5,204.5 691.7,205.2 700.0,205.0C708.3,204.8 716.7,203.2 725.0,202.5C733.3,201.8 744.2,201.3 750.0,201.0C755.8,200.7 754.8,202.3 760.0,200.5C765.2,198.7 774.0,192.8 781.0,190.0C788.0,187.2 793.0,185.4 802.0,184.0C811.0,182.6 824.0,182.3 835.0,181.6C846.0,180.8 855.5,180.3 868.0,179.5C880.5,178.7 899.0,178.5 910.0,176.5C921.0,174.5 925.0,171.0 934.0,167.5C943.0,164.0 956.0,159.2 964.0,155.5C972.0,151.8 975.5,148.8 982.0,145.0C988.5,141.2 999.5,135.0 1003.0,133.0"/>
<path d="M440.0,-3.0C440.3,-2.5 439.5,-2.0 442.0,0.0C444.5,2.0 450.3,6.1 455.0,9.0C459.7,11.9 465.0,14.4 470.0,17.5C475.0,20.6 481.0,24.8 485.0,27.5C489.0,30.2 489.5,32.1 494.0,34.0C498.5,35.9 505.7,38.0 512.0,39.0C518.3,40.0 525.3,39.8 532.0,40.0C538.7,40.2 545.3,39.5 552.0,40.0C558.7,40.5 565.0,42.0 572.0,43.0C579.0,44.0 587.3,45.1 594.0,46.0C600.7,46.9 606.0,47.9 612.0,48.6C618.0,49.3 625.0,49.1 630.0,50.0C635.0,50.9 638.3,52.5 642.0,54.0C645.7,55.5 649.0,57.2 652.0,59.0C655.0,60.8 657.8,63.0 660.0,65.0C662.2,67.0 662.7,69.8 665.0,71.0C667.3,72.2 672.5,71.8 674.0,72.0"/>
<path d="M713.0,72.0C714.8,71.7 720.2,72.3 724.0,70.0C727.8,67.7 731.7,62.7 736.0,58.0C740.3,53.3 745.0,47.7 750.0,42.0C755.0,36.3 761.0,29.7 766.0,24.0C771.0,18.3 776.5,12.5 780.0,8.0C783.5,3.5 785.8,-1.2 787.0,-3.0"/>
<path d="M440.5,686.0C441.0,682.5 442.9,671.5 443.5,665.0C444.1,658.5 445.6,652.5 444.4,647.0C443.1,641.5 439.4,637.0 436.0,632.0C432.6,627.0 427.5,621.8 424.0,617.0C420.5,612.2 419.0,607.2 415.0,603.5C411.0,599.8 405.0,597.5 400.0,594.5C395.0,591.5 388.4,588.2 385.0,585.5C381.6,582.8 379.1,581.8 379.6,578.0C380.1,574.2 384.6,569.0 388.0,563.0C391.4,557.0 397.2,549.0 400.0,542.0C402.8,535.0 402.5,527.0 404.5,521.0C406.5,515.0 409.2,509.2 412.0,506.0C414.8,502.8 418.0,501.5 421.0,501.5C424.0,501.5 426.0,504.0 430.0,506.0C434.0,508.0 439.0,510.8 445.0,513.5C451.0,516.2 459.5,520.2 466.0,522.5C472.5,524.8 478.3,526.8 484.0,527.0C489.7,527.2 494.8,525.6 500.0,524.0C505.2,522.4 509.0,519.0 515.0,517.4C521.0,515.8 528.5,514.8 536.0,514.4C543.5,514.0 553.5,514.3 560.0,515.0C566.5,515.7 570.5,516.6 575.0,518.6C579.5,520.6 583.0,522.9 587.0,527.0C591.0,531.1 594.5,537.8 599.0,543.5C603.5,549.2 609.0,556.2 614.0,561.5C619.0,566.8 625.2,570.5 629.0,575.0C632.8,579.5 634.5,583.5 636.5,588.5C638.5,593.5 638.8,600.0 641.0,605.0C643.2,610.0 646.0,615.0 650.0,618.5C654.0,622.0 659.0,624.0 665.0,626.0C671.0,628.0 678.5,630.1 686.0,630.5C693.5,630.9 703.0,627.9 710.0,628.4C717.0,628.9 721.3,630.4 728.0,633.5C734.7,636.6 743.3,642.8 750.0,647.0C756.7,651.2 762.0,655.0 768.0,659.0C774.0,663.0 779.7,666.5 786.0,671.0C792.3,675.5 802.7,683.5 806.0,686.0"/>
<path d="M464.0,686.0C464.5,685.0 465.7,682.0 467.0,680.0C468.3,678.0 469.7,675.7 472.0,674.0C474.3,672.3 478.0,670.2 481.0,670.0C484.0,669.8 487.5,670.8 490.0,672.5C492.5,674.2 494.5,677.8 496.0,680.0C497.5,682.2 498.5,685.0 499.0,686.0"/>
</g>
<rect x="0" y="683" width="1000" height="50" fill="#fff"/>
<rect x="0" y="682" width="1000" height="1" fill="#ff0000" shape-rendering="crispEdges"/>
<rect x="999" y="605" width="1" height="78" fill="#ff0000" shape-rendering="crispEdges"/>
<rect x="0" y="0" width="1" height="682" fill="#ff7800" shape-rendering="crispEdges"/>
<rect x="999" y="0" width="1" height="605" fill="#ff0000" opacity="0.09" shape-rendering="crispEdges"/>
<rect x="0" y="0" width="1000" height="1" fill="#ffac30" shape-rendering="crispEdges"/>
<path d="M7.6,689.1L7.6,701.7M1.6,689.1L13.6,689.1M16.8,689.1L16.8,701.7M16.8,695.7L19.0,693.9L20.4,693.3L22.6,693.3L24.1,693.9L24.8,695.7L24.8,701.7M28.8,696.9L37.8,696.9L37.8,695.7L37.0,694.5L36.3,693.9L34.8,693.3L32.5,693.3L31.1,693.9L29.6,695.1L28.8,696.9L28.8,698.1L29.6,699.9L31.1,701.1L32.5,701.7L34.8,701.7L36.3,701.1L37.8,699.9M42.2,689.1L42.2,699.3L43.0,701.1L44.5,701.7L46.0,701.7M40.0,693.3L45.2,693.3M55.2,693.3L55.2,701.7M55.2,695.1L53.8,693.9L52.3,693.3L50.2,693.3L48.8,693.9L47.3,695.1L46.6,696.9L46.6,698.1L47.3,699.9L48.8,701.1L50.2,701.7L52.3,701.7L53.8,701.1L55.2,699.9M60.0,696.3L73.6,696.3M76.0,689.1L79.6,701.7M83.2,689.1L79.6,701.7M83.2,689.1L86.8,701.7M90.4,689.1L86.8,701.7M108.8,689.1L106.4,689.7L105.6,690.9L105.6,692.1L106.4,693.3L108.0,693.9L111.2,694.5L113.6,695.1L115.2,696.3L116.0,697.5L116.0,699.3L115.2,700.5L114.4,701.1L112.0,701.7L108.8,701.7L106.4,701.1L105.6,700.5L104.8,699.3L104.8,697.5L105.6,696.3L107.2,695.1L109.6,694.5L112.8,693.9L114.4,693.3L115.2,692.1L115.2,690.9L114.4,689.7L112.0,689.1L108.8,689.1M128.1,689.1L120.7,689.1L119.9,694.5L120.7,693.9L122.9,693.3L125.1,693.3L127.4,693.9L128.9,695.1L129.6,696.9L129.6,698.1L128.9,699.9L127.4,701.1L125.1,701.7L122.9,701.7L120.7,701.1L119.9,700.5L119.2,699.3M137.6,689.1L135.2,689.7L133.6,691.5L132.8,694.5L132.8,696.3L133.6,699.3L135.2,701.1L137.6,701.7L139.2,701.7L141.6,701.1L143.2,699.3L144.0,696.3L144.0,694.5L143.2,691.5L141.6,689.7L139.2,689.1L137.6,689.1M148.0,689.1L148.0,701.7M148.0,695.7L150.0,693.9L151.3,693.3L153.2,693.3L154.5,693.9L155.2,695.7L155.2,701.7M160.4,689.1L160.4,701.7M160.4,689.1L167.1,689.1L169.3,689.7L170.1,690.3L170.8,691.5L170.8,693.3L170.1,694.5L169.3,695.1L167.1,695.7L160.4,695.7M183.6,693.3L183.6,701.7M183.6,695.1L182.0,693.9L180.4,693.3L178.0,693.3L176.4,693.9L174.8,695.1L174.0,696.9L174.0,698.1L174.8,699.9L176.4,701.1L178.0,701.7L180.4,701.7L182.0,701.1L183.6,699.9M205.2,686.7L199.6,686.7L199.6,705.9L205.2,705.9M209.2,689.1L209.2,701.7M209.2,695.7L211.4,693.9L212.8,693.3L215.0,693.3L216.5,693.9L217.2,695.7L217.2,701.7M222.8,689.1L222.8,701.7M222.8,689.1L229.5,689.1L231.7,689.7L232.5,690.3L233.2,691.5L233.2,693.3L232.5,694.5L231.7,695.1L229.5,695.7L222.8,695.7M245.7,693.3L245.7,701.7M245.7,695.1L244.1,693.9L242.6,693.3L240.3,693.3L238.7,693.9L237.2,695.1L236.4,696.9L236.4,698.1L237.2,699.9L238.7,701.1L240.3,701.7L242.6,701.7L244.1,701.1L245.7,699.9M248.9,686.7L254.0,686.7L254.0,705.9L248.9,705.9M282.0,692.1L281.3,690.9L279.8,689.7L278.3,689.1L275.3,689.1L273.8,689.7L272.3,690.9L271.5,692.1L270.8,693.9L270.8,696.9L271.5,698.7L272.3,699.9L273.8,701.1L275.3,701.7L278.3,701.7L279.8,701.1L281.3,699.9L282.0,698.7L282.0,696.9M278.3,696.9L282.0,696.9M286.0,689.1L286.0,701.7M286.0,689.1L295.6,689.1M286.0,695.1L291.9,695.1M307.6,690.9L306.2,689.7L304.2,689.1L301.4,689.1L299.4,689.7L298.0,690.9L298.0,692.1L298.7,693.3L299.4,693.9L300.7,694.5L304.9,695.7L306.2,696.3L306.9,696.9L307.6,698.1L307.6,699.9L306.2,701.1L304.2,701.7L301.4,701.7L299.4,701.1L298.0,699.9M574.8,689.1L574.8,701.7M574.8,689.1L583.6,689.1M574.8,695.1L580.2,695.1M586.8,693.3L586.8,701.7M586.8,696.9L587.6,695.1L589.2,693.9L590.8,693.3L593.2,693.3M610.0,691.5L611.3,690.9L613.2,689.1L613.2,701.7M630.8,690.9L630.0,689.7L627.6,689.1L626.0,689.1L623.6,689.7L622.0,691.5L621.2,694.5L621.2,697.5L622.0,699.9L623.6,701.1L626.0,701.7L626.8,701.7L629.2,701.1L630.8,699.9L631.6,698.1L631.6,697.5L630.8,695.7L629.2,694.5L626.8,693.9L626.0,693.9L623.6,694.5L622.0,695.7L621.2,697.5M635.6,696.3L649.2,696.3M657.5,689.1L655.2,689.7L653.7,691.5L652.9,694.5L652.9,696.3L653.7,699.3L655.2,701.1L657.5,701.7L659.0,701.7L661.3,701.1L662.8,699.3L663.6,696.3L663.6,694.5L662.8,691.5L661.3,689.7L659.0,689.1L657.5,689.1M669.2,691.5L670.5,690.9L672.4,689.1L672.4,701.7M680.4,696.3L694.0,696.3M698.7,692.1L698.7,691.5L699.5,690.3L700.2,689.7L701.7,689.1L704.7,689.1L706.2,689.7L706.9,690.3L707.7,691.5L707.7,692.7L706.9,693.9L705.4,695.7L698.0,701.7L708.4,701.7M716.1,689.1L713.8,689.7L712.3,691.5L711.6,694.5L711.6,696.3L712.3,699.3L713.8,701.1L716.1,701.7L717.5,701.7L719.8,701.1L721.3,699.3L722.0,696.3L722.0,694.5L721.3,691.5L719.8,689.7L717.5,689.1L716.1,689.1M726.3,692.1L726.3,691.5L727.1,690.3L727.8,689.7L729.3,689.1L732.3,689.1L733.8,689.7L734.5,690.3L735.3,691.5L735.3,692.7L734.5,693.9L733.0,695.7L725.6,701.7L736.0,701.7M748.8,690.9L748.0,689.7L745.7,689.1L744.2,689.1L741.8,689.7L740.3,691.5L739.5,694.5L739.5,697.5L740.3,699.9L741.8,701.1L744.2,701.7L744.9,701.7L747.3,701.1L748.8,699.9L749.6,698.1L749.6,697.5L748.8,695.7L747.3,694.5L744.9,693.9L744.2,693.9L741.8,694.5L740.3,695.7L739.5,697.5M766.4,691.5L767.8,690.9L770.0,689.1L770.0,701.7M781.6,689.1L779.2,689.7L778.4,690.9L778.4,692.1L779.2,693.3L780.8,693.9L784.0,694.5L786.4,695.1L788.0,696.3L788.8,697.5L788.8,699.3L788.0,700.5L787.2,701.1L784.8,701.7L781.6,701.7L779.2,701.1L778.4,700.5L777.6,699.3L777.6,697.5L778.4,696.3L780.0,695.1L782.4,694.5L785.6,693.9L787.2,693.3L788.0,692.1L788.0,690.9L787.2,689.7L784.8,689.1L781.6,689.1M794.0,693.3L793.0,693.9L794.0,694.5L795.0,693.9L794.0,693.3M794.0,700.5L793.0,701.1L794.0,701.7L795.0,701.1L794.0,700.5M803.7,689.1L801.4,689.7L799.9,691.5L799.2,694.5L799.2,696.3L799.9,699.3L801.4,701.1L803.7,701.7L805.1,701.7L807.4,701.1L808.9,699.3L809.6,696.3L809.6,694.5L808.9,691.5L807.4,689.7L805.1,689.1L803.7,689.1M817.3,689.1L815.0,689.7L813.5,691.5L812.8,694.5L812.8,696.3L813.5,699.3L815.0,701.1L817.3,701.7L818.7,701.7L821.0,701.1L822.5,699.3L823.2,696.3L823.2,694.5L822.5,691.5L821.0,689.7L818.7,689.1L817.3,689.1M838.4,689.1L838.4,698.1L839.1,699.9L840.6,701.1L842.9,701.7L844.3,701.7L846.6,701.1L848.1,699.9L848.8,698.1L848.8,689.1M856.8,689.1L856.8,701.7M850.4,689.1L863.2,689.1M875.0,692.1L874.3,690.9L873.0,689.7L871.7,689.1L869.1,689.1L867.8,689.7L866.5,690.9L865.9,692.1L865.2,693.9L865.2,696.9L865.9,698.7L866.5,699.9L867.8,701.1L869.1,701.7L871.7,701.7L873.0,701.1L874.3,699.9L875.0,698.7M896.3,686.7L894.8,687.9L893.2,689.7L891.7,692.1L890.9,695.1L890.9,697.5L891.7,700.5L893.2,702.9L894.8,704.7L896.3,705.9M904.5,689.1L902.2,689.7L900.7,691.5L900.0,694.5L900.0,696.3L900.7,699.3L902.2,701.1L904.5,701.7L905.9,701.7L908.2,701.1L909.7,699.3L910.4,696.3L910.4,694.5L909.7,691.5L908.2,689.7L905.9,689.1L904.5,689.1M923.2,690.9L922.4,689.7L920.0,689.1L918.4,689.1L916.0,689.7L914.4,691.5L913.6,694.5L913.6,697.5L914.4,699.9L916.0,701.1L918.4,701.7L919.2,701.7L921.6,701.1L923.2,699.9L924.0,698.1L924.0,697.5L923.2,695.7L921.6,694.5L919.2,693.9L918.4,693.9L916.0,694.5L914.4,695.7L913.6,697.5M934.4,690.9L934.4,701.7M927.2,696.3L941.6,696.3M946.3,689.1L954.5,689.1L950.0,693.9L952.2,693.9L953.7,694.5L954.5,695.1L955.2,696.9L955.2,698.1L954.5,699.9L953.0,701.1L950.7,701.7L948.5,701.7L946.3,701.1L945.5,700.5L944.8,699.3M968.0,690.9L967.2,689.7L964.8,689.1L963.2,689.1L960.8,689.7L959.2,691.5L958.4,694.5L958.4,697.5L959.2,699.9L960.8,701.1L963.2,701.7L964.0,701.7L966.4,701.1L968.0,699.9L968.8,698.1L968.8,697.5L968.0,695.7L966.4,694.5L964.0,693.9L963.2,693.9L960.8,694.5L959.2,695.7L958.4,697.5M972.8,686.7L974.5,687.9L976.3,689.7L978.0,692.1L978.9,695.1L978.9,697.5L978.0,700.5L976.3,702.9L974.5,704.7L972.8,705.9" fill="none" stroke="#000" stroke-width="1" stroke-linecap="square" stroke-linejoin="round" shape-rendering="crispEdges"/>
<g shape-rendering="crispEdges"><path d="M19,713.4L45.2,707.5L45.2,719.2Z" fill="#3c64f0" stroke="#000" stroke-width="1" shape-rendering="auto"/><path d="M637,713.4L621.2,707.5L621.2,719.2Z" fill="#aa0000" stroke="#000" stroke-width="1" shape-rendering="auto"/><rect x="45.2" y="707.5" width="31.0" height="11.7" fill="#3296ff" stroke="#000" stroke-width="1"/><rect x="76.2" y="707.5" width="31.2" height="11.7" fill="#32c8ff" stroke="#000" stroke-width="1"/><rect x="107.4" y="707.5" width="29.0" height="11.7" fill="#32ffff" stroke="#000" stroke-width="1"/><rect x="136.4" y="707.5" width="31.0" height="11.7" fill="#007800" stroke="#000" stroke-width="1"/><rect x="167.4" y="707.5" width="30.8" height="11.7" fill="#009600" stroke="#000" stroke-width="1"/><rect x="198.2" y="707.5" width="29.4" height="11.7" fill="#00b400" stroke="#000" stroke-width="1"/><rect x="227.6" y="707.5" width="31.0" height="11.7" fill="#00d200" stroke="#000" stroke-width="1"/><rect x="258.6" y="707.5" width="30.8" height="11.7" fill="#00ff00" stroke="#000" stroke-width="1"/><rect x="289.4" y="707.5" width="29.1" height="11.7" fill="#ffff32" stroke="#000" stroke-width="1"/><rect x="318.5" y="707.5" width="31.1" height="11.7" fill="#ffe632" stroke="#000" stroke-width="1"/><rect x="349.6" y="707.5" width="30.3" height="11.7" fill="#ffd732" stroke="#000" stroke-width="1"/><rect x="379.9" y="707.5" width="29.8" height="11.7" fill="#ffc832" stroke="#000" stroke-width="1"/><rect x="409.7" y="707.5" width="30.6" height="11.7" fill="#ffb93c" stroke="#000" stroke-width="1"/><rect x="440.3" y="707.5" width="30.6" height="11.7" fill="#ffaa00" stroke="#000" stroke-width="1"/><rect x="470.9" y="707.5" width="29.5" height="11.7" fill="#ff9b00" stroke="#000" stroke-width="1"/><rect x="500.4" y="707.5" width="29.8" height="11.7" fill="#ff7800" stroke="#000" stroke-width="1"/><rect x="530.2" y="707.5" width="30.6" height="11.7" fill="#ff0000" stroke="#000" stroke-width="1"/><rect x="560.8" y="707.5" width="29.8" height="11.7" fill="#e60000" stroke="#000" stroke-width="1"/><rect x="590.6" y="707.5" width="30.6" height="11.7" fill="#c80000" stroke="#000" stroke-width="1"/></g>
<path d="M31.8,729.3L40.5,729.3M44.3,725.5L45.5,725.0L47.3,723.6L47.3,733.6M52.4,726.0L52.4,725.5L53.0,724.6L53.7,724.1L54.9,723.6L57.4,723.6L58.6,724.1L59.3,724.6L59.9,725.5L59.9,726.5L59.3,727.4L58.0,728.8L51.8,733.6L60.5,733.6M62.8,729.3L71.5,729.3M75.3,725.5L76.5,725.0L78.3,723.6L78.3,733.6M86.5,723.6L84.7,724.1L83.4,725.5L82.8,727.9L82.8,729.3L83.4,731.7L84.7,733.1L86.5,733.6L87.8,733.6L89.6,733.1L90.9,731.7L91.5,729.3L91.5,727.9L90.9,725.5L89.6,724.1L87.8,723.6L86.5,723.6M98.8,729.3L107.5,729.3M112.3,723.6L110.4,724.1L109.8,725.0L109.8,726.0L110.4,726.9L111.7,727.4L114.2,727.9L116.0,728.4L117.3,729.3L117.9,730.3L117.9,731.7L117.3,732.6L116.7,733.1L114.8,733.6L112.3,733.6L110.4,733.1L109.8,732.6L109.2,731.7L109.2,730.3L109.8,729.3L111.1,728.4L112.9,727.9L115.4,727.4L116.7,726.9L117.3,726.0L117.3,725.0L116.7,724.1L114.8,723.6L112.3,723.6M127.8,729.3L136.5,729.3M146.2,725.0L145.6,724.1L143.6,723.6L142.2,723.6L140.2,724.1L138.9,725.5L138.2,727.9L138.2,730.3L138.9,732.2L140.2,733.1L142.2,733.6L142.9,733.6L144.9,733.1L146.2,732.2L146.9,730.7L146.9,730.3L146.2,728.8L144.9,727.9L142.9,727.4L142.2,727.4L140.2,727.9L138.9,728.8L138.2,730.3M158.8,729.3L167.5,729.3M175.0,723.6L169.2,730.3L177.9,730.3M175.0,723.6L175.0,733.6M189.6,729.3L198.3,729.3M201.2,723.6L208.1,723.6L204.4,727.4L206.2,727.4L207.5,727.9L208.1,728.4L208.7,729.8L208.7,730.7L208.1,732.2L206.8,733.1L205.0,733.6L203.1,733.6L201.2,733.1L200.6,732.6L200.0,731.7M219.0,729.3L227.7,729.3M230.0,726.0L230.0,725.5L230.6,724.6L231.3,724.1L232.5,723.6L235.0,723.6L236.2,724.1L236.9,724.6L237.5,725.5L237.5,726.5L236.9,727.4L235.6,728.8L229.4,733.6L238.1,733.6M249.0,729.3L258.2,729.3M254.6,725.5L255.8,725.0L257.7,723.6L257.7,733.6M289.3,723.6L287.4,724.1L286.2,725.5L285.6,727.9L285.6,729.3L286.2,731.7L287.4,733.1L289.3,733.6L290.5,733.6L292.4,733.1L293.6,731.7L294.2,729.3L294.2,727.9L293.6,725.5L292.4,724.1L290.5,723.6L289.3,723.6M317.1,725.5L318.3,725.0L320.1,723.6L320.1,733.6M346.4,726.0L346.4,725.5L347.0,724.6L347.6,724.1L348.9,723.6L351.3,723.6L352.6,724.1L353.2,724.6L353.8,725.5L353.8,726.5L353.2,727.4L352.0,728.8L345.8,733.6L354.5,733.6M377.3,723.6L384.1,723.6L380.4,727.4L382.3,727.4L383.5,727.9L384.1,728.4L384.8,729.8L384.8,730.7L384.1,732.2L382.9,733.1L381.0,733.6L379.2,733.6L377.3,733.1L376.7,732.6L376.1,731.7M411.7,723.6L405.9,730.3L414.6,730.3M411.7,723.6L411.7,733.6M444.5,725.0L443.8,724.1L441.8,723.6L440.5,723.6L438.5,724.1L437.1,725.5L436.5,727.9L436.5,730.3L437.1,732.2L438.5,733.1L440.5,733.6L441.1,733.6L443.1,733.1L444.5,732.2L445.2,730.7L445.2,730.3L444.5,728.8L443.1,727.9L441.1,727.4L440.5,727.4L438.5,727.9L437.1,728.8L436.5,730.3M470.2,723.6L468.3,724.1L467.7,725.0L467.7,726.0L468.3,726.9L469.5,727.4L472.0,727.9L473.9,728.4L475.1,729.3L475.8,730.3L475.8,731.7L475.1,732.6L474.5,733.1L472.6,733.6L470.2,733.6L468.3,733.1L467.7,732.6L467.1,731.7L467.1,730.3L467.7,729.3L468.9,728.4L470.8,727.9L473.3,727.4L474.5,726.9L475.1,726.0L475.1,725.0L474.5,724.1L472.6,723.6L470.2,723.6M493.8,725.5L495.0,725.0L496.8,723.6L496.8,733.6M505.1,723.6L503.2,724.1L502.0,725.5L501.4,727.9L501.4,729.3L502.0,731.7L503.2,733.1L505.1,733.6L506.3,733.6L508.2,733.1L509.4,731.7L510.1,729.3L510.1,727.9L509.4,725.5L508.2,724.1L506.3,723.6L505.1,723.6M523.6,725.5L524.9,725.0L526.6,723.6L526.6,733.6M531.8,726.0L531.8,725.5L532.4,724.6L533.0,724.1L534.3,723.6L536.7,723.6L538.0,724.1L538.6,724.6L539.2,725.5L539.2,726.5L538.6,727.4L537.4,728.8L531.1,733.6L539.9,733.6M554.2,725.5L555.4,725.0L557.2,723.6L557.2,733.6M567.5,723.6L561.7,730.3L570.4,730.3M567.5,723.6L567.5,733.6M584.0,725.5L585.2,725.0L587.0,723.6L587.0,733.6M599.6,725.0L598.9,724.1L596.9,723.6L595.6,723.6L593.6,724.1L592.2,725.5L591.5,727.9L591.5,730.3L592.2,732.2L593.6,733.1L595.6,733.6L596.2,733.6L598.2,733.1L599.6,732.2L600.2,730.7L600.2,730.3L599.6,728.8L598.2,727.9L596.2,727.4L595.6,727.4L593.6,727.9L592.2,728.8L591.5,730.3M614.6,725.5L615.9,725.0L617.6,723.6L617.6,733.6M625.3,723.6L623.4,724.1L622.8,725.0L622.8,726.0L623.4,726.9L624.6,727.4L627.1,727.9L629.0,728.4L630.2,729.3L630.9,730.3L630.9,731.7L630.2,732.6L629.6,733.1L627.7,733.6L625.3,733.6L623.4,733.1L622.8,732.6L622.1,731.7L622.1,730.3L622.8,729.3L624.0,728.4L625.9,727.9L628.4,727.4L629.6,726.9L630.2,726.0L630.2,725.0L629.6,724.1L627.7,723.6L625.3,723.6" fill="none" stroke="#000" stroke-width="1" stroke-linecap="square" stroke-linejoin="round" shape-rendering="crispEdges"/>
<path d="M680.5,68.2L681.3,67.7L682.5,66.2L682.5,76.6M690.2,66.2L688.6,66.7L687.5,68.2L687.0,70.7L687.0,72.1L687.5,74.6L688.6,76.1L690.2,76.6L691.3,76.6L692.9,76.1L694.0,74.6L694.5,72.1L694.5,70.7L694.0,68.2L692.9,66.7L691.3,66.2L690.2,66.2M697.5,66.2L703.0,66.2L700.0,70.2L701.5,70.2L702.5,70.7L703.0,71.2L703.5,72.6L703.5,73.6L703.0,75.1L702.0,76.1L700.5,76.6L699.0,76.6L697.5,76.1L697.0,75.6L696.5,74.6M708.5,66.2L707.0,66.7L706.0,68.2L705.5,70.7L705.5,72.1L706.0,74.6L707.0,76.1L708.5,76.6L709.5,76.6L711.0,76.1L712.0,74.6L712.5,72.1L712.5,70.7L712.0,68.2L711.0,66.7L709.5,66.2L708.5,66.2" fill="none" stroke="#000" stroke-width="1" stroke-linecap="square" stroke-linejoin="round" shape-rendering="crispEdges"/>
<g shape-rendering="crispEdges"><rect x="929.5" y="103" width="10.5" height="3" fill="#ffff32"/><rect x="929.5" y="106" width="10.5" height="3" fill="#ffe632"/><rect x="900" y="112" width="11" height="2.6" fill="#ffe632"/><rect x="900" y="114.6" width="11" height="3" fill="#ffd732"/><rect x="869" y="120" width="13" height="3.2" fill="#ffd732"/><rect x="869" y="123.2" width="13" height="3" fill="#ffc832"/><path d="M878,97.5L928,97.5L1000,96.5" fill="none" stroke="#dedee2" stroke-width="1"/></g>
<path d="M932.0,103.1L933.1,102.6L934.7,101.1L934.7,111.5M902.5,111.9L902.5,111.4L903.0,110.4L903.5,109.9L904.5,109.4L906.5,109.4L907.5,109.9L908.0,110.4L908.5,111.4L908.5,112.4L908.0,113.4L907.0,114.8L902.0,119.8L909.0,119.8M873.4,118.4L878.5,118.4L875.8,122.4L877.1,122.4L878.1,122.9L878.5,123.4L879.0,124.8L879.0,125.8L878.5,127.3L877.6,128.3L876.2,128.8L874.8,128.8L873.4,128.3L873.0,127.8L872.5,126.8" fill="none" stroke="#dedee2" stroke-width="1" stroke-linecap="square" stroke-linejoin="round" shape-rendering="crispEdges"/>
<g fill="#000" shape-rendering="crispEdges"><rect x="321" y="543" width="3" height="2"/><rect x="898" y="429" width="2" height="2"/><rect x="899" y="430" width="2" height="3"/><rect x="809" y="541" width="2" height="2"/></g>
<path d="M983.5,669.5l2,-1.5l2,1l-1.5,1.5z" fill="none" stroke="#e4e4e4" stroke-width="1"/>
<ellipse cx="942" cy="567.5" rx="3" ry="2.6" fill="none" stroke="#000" stroke-width="1.3"/>
<path d="M313,683Q315,679 318,678.5Q321,679 324,683" fill="none" stroke="#e4e4e4" stroke-width="1" shape-rendering="crispEdges"/>
<text x="853.4" y="728" font-family="Liberation Sans, sans-serif" font-size="12px" fill="#1a30b4" textLength="124.6" lengthAdjust="spacing">©weatheronline.co.uk</text>
</svg>
</body></html>
